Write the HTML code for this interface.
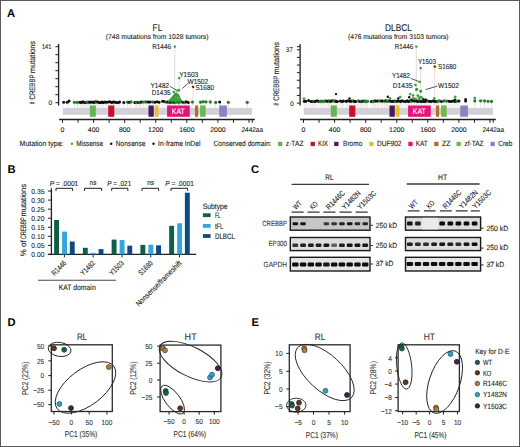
<!DOCTYPE html>
<html><head><meta charset="utf-8"><style>
html,body{margin:0;padding:0;background:#fff;}
svg{display:block;}
text{font-family:"Liberation Sans", sans-serif;text-rendering:geometricPrecision;}
</style></head><body>
<svg xmlns="http://www.w3.org/2000/svg" width="520" height="447" viewBox="0 0 520 447" font-family='"Liberation Sans", sans-serif' fill="#231f20">
<defs><filter id="bl" x="-50%" y="-50%" width="200%" height="200%"><feGaussianBlur stdDeviation="0.45"/></filter></defs>
<rect x="0.5" y="0.5" width="519" height="446" fill="#fff" stroke="#5a5a5a" stroke-width="1"/>
<text x="7.0" y="16.8" font-size="11.2" font-weight="bold" fill="#000">A</text>
<text x="7.6" y="173.3" font-size="11.2" font-weight="bold" fill="#000">B</text>
<text x="251.0" y="173.4" font-size="11.2" font-weight="bold" fill="#000">C</text>
<text x="7.4" y="326.1" font-size="11.2" font-weight="bold" fill="#000">D</text>
<text x="251.4" y="326.2" font-size="11.2" font-weight="bold" fill="#000">E</text>
<rect x="62.70" y="107.90" width="189.34" height="6.90" fill="#d3d1d8"/>
<line x1="63.70" y1="103.00" x2="63.70" y2="107.80" stroke="#dcc8d2" stroke-width="0.45"/>
<line x1="67.20" y1="103.00" x2="67.20" y2="107.80" stroke="#dcc8d2" stroke-width="0.45"/>
<line x1="69.10" y1="103.00" x2="69.10" y2="107.80" stroke="#dcc8d2" stroke-width="0.45"/>
<line x1="74.40" y1="103.00" x2="74.40" y2="107.80" stroke="#dcc8d2" stroke-width="0.45"/>
<line x1="77.30" y1="103.00" x2="77.30" y2="107.80" stroke="#dcc8d2" stroke-width="0.45"/>
<line x1="80.00" y1="103.00" x2="80.00" y2="107.80" stroke="#dcc8d2" stroke-width="0.45"/>
<line x1="81.35" y1="103.00" x2="81.35" y2="107.80" stroke="#dcc8d2" stroke-width="0.45"/>
<line x1="82.62" y1="103.00" x2="82.62" y2="107.80" stroke="#dcc8d2" stroke-width="0.45"/>
<line x1="83.99" y1="103.00" x2="83.99" y2="107.80" stroke="#dcc8d2" stroke-width="0.45"/>
<line x1="85.30" y1="103.00" x2="85.30" y2="107.80" stroke="#dcc8d2" stroke-width="0.45"/>
<line x1="86.83" y1="103.00" x2="86.83" y2="107.80" stroke="#dcc8d2" stroke-width="0.45"/>
<line x1="87.97" y1="103.00" x2="87.97" y2="107.80" stroke="#dcc8d2" stroke-width="0.45"/>
<line x1="89.51" y1="103.00" x2="89.51" y2="107.80" stroke="#dcc8d2" stroke-width="0.45"/>
<line x1="90.46" y1="103.00" x2="90.46" y2="107.80" stroke="#dcc8d2" stroke-width="0.45"/>
<line x1="92.12" y1="103.00" x2="92.12" y2="107.80" stroke="#dcc8d2" stroke-width="0.45"/>
<line x1="93.51" y1="103.00" x2="93.51" y2="107.80" stroke="#dcc8d2" stroke-width="0.45"/>
<line x1="94.43" y1="103.00" x2="94.43" y2="107.80" stroke="#dcc8d2" stroke-width="0.45"/>
<line x1="95.39" y1="103.00" x2="95.39" y2="107.80" stroke="#dcc8d2" stroke-width="0.45"/>
<line x1="96.49" y1="103.00" x2="96.49" y2="107.80" stroke="#dcc8d2" stroke-width="0.45"/>
<line x1="97.76" y1="103.00" x2="97.76" y2="107.80" stroke="#dcc8d2" stroke-width="0.45"/>
<line x1="99.33" y1="103.00" x2="99.33" y2="107.80" stroke="#dcc8d2" stroke-width="0.45"/>
<line x1="100.73" y1="103.00" x2="100.73" y2="107.80" stroke="#dcc8d2" stroke-width="0.45"/>
<line x1="102.16" y1="103.00" x2="102.16" y2="107.80" stroke="#dcc8d2" stroke-width="0.45"/>
<line x1="103.29" y1="103.00" x2="103.29" y2="107.80" stroke="#dcc8d2" stroke-width="0.45"/>
<line x1="104.97" y1="103.00" x2="104.97" y2="107.80" stroke="#dcc8d2" stroke-width="0.45"/>
<line x1="106.44" y1="103.00" x2="106.44" y2="107.80" stroke="#dcc8d2" stroke-width="0.45"/>
<line x1="108.30" y1="103.00" x2="108.30" y2="107.80" stroke="#dcc8d2" stroke-width="0.45"/>
<line x1="110.00" y1="103.00" x2="110.00" y2="107.80" stroke="#dcc8d2" stroke-width="0.45"/>
<line x1="111.70" y1="103.00" x2="111.70" y2="107.80" stroke="#dcc8d2" stroke-width="0.45"/>
<line x1="112.96" y1="103.00" x2="112.96" y2="107.80" stroke="#dcc8d2" stroke-width="0.45"/>
<line x1="114.56" y1="103.00" x2="114.56" y2="107.80" stroke="#dcc8d2" stroke-width="0.45"/>
<line x1="116.14" y1="103.00" x2="116.14" y2="107.80" stroke="#dcc8d2" stroke-width="0.45"/>
<line x1="118.20" y1="103.00" x2="118.20" y2="107.80" stroke="#dcc8d2" stroke-width="0.45"/>
<line x1="119.60" y1="103.00" x2="119.60" y2="107.80" stroke="#dcc8d2" stroke-width="0.45"/>
<line x1="123.80" y1="103.00" x2="123.80" y2="107.80" stroke="#dcc8d2" stroke-width="0.45"/>
<line x1="127.50" y1="103.00" x2="127.50" y2="107.80" stroke="#dcc8d2" stroke-width="0.45"/>
<line x1="129.30" y1="103.00" x2="129.30" y2="107.80" stroke="#dcc8d2" stroke-width="0.45"/>
<line x1="131.00" y1="103.00" x2="131.00" y2="107.80" stroke="#dcc8d2" stroke-width="0.45"/>
<line x1="134.80" y1="103.00" x2="134.80" y2="107.80" stroke="#dcc8d2" stroke-width="0.45"/>
<line x1="136.40" y1="103.00" x2="136.40" y2="107.80" stroke="#dcc8d2" stroke-width="0.45"/>
<line x1="138.23" y1="103.00" x2="138.23" y2="107.80" stroke="#dcc8d2" stroke-width="0.45"/>
<line x1="139.69" y1="103.00" x2="139.69" y2="107.80" stroke="#dcc8d2" stroke-width="0.45"/>
<line x1="141.22" y1="103.00" x2="141.22" y2="107.80" stroke="#dcc8d2" stroke-width="0.45"/>
<line x1="143.19" y1="103.00" x2="143.19" y2="107.80" stroke="#dcc8d2" stroke-width="0.45"/>
<line x1="145.60" y1="103.00" x2="145.60" y2="107.80" stroke="#dcc8d2" stroke-width="0.45"/>
<line x1="147.90" y1="103.00" x2="147.90" y2="107.80" stroke="#dcc8d2" stroke-width="0.45"/>
<line x1="149.90" y1="103.00" x2="149.90" y2="107.80" stroke="#dcc8d2" stroke-width="0.45"/>
<line x1="152.40" y1="103.00" x2="152.40" y2="107.80" stroke="#dcc8d2" stroke-width="0.45"/>
<line x1="154.90" y1="103.00" x2="154.90" y2="107.80" stroke="#dcc8d2" stroke-width="0.45"/>
<line x1="157.00" y1="103.00" x2="157.00" y2="107.80" stroke="#dcc8d2" stroke-width="0.45"/>
<line x1="159.10" y1="103.00" x2="159.10" y2="107.80" stroke="#dcc8d2" stroke-width="0.45"/>
<line x1="162.60" y1="103.00" x2="162.60" y2="107.80" stroke="#dcc8d2" stroke-width="0.45"/>
<line x1="164.10" y1="103.00" x2="164.10" y2="107.80" stroke="#dcc8d2" stroke-width="0.45"/>
<line x1="165.90" y1="103.00" x2="165.90" y2="107.80" stroke="#dcc8d2" stroke-width="0.45"/>
<line x1="167.60" y1="103.00" x2="167.60" y2="107.80" stroke="#dcc8d2" stroke-width="0.45"/>
<line x1="169.20" y1="103.00" x2="169.20" y2="107.80" stroke="#dcc8d2" stroke-width="0.45"/>
<line x1="170.70" y1="103.00" x2="170.70" y2="107.80" stroke="#dcc8d2" stroke-width="0.45"/>
<line x1="172.30" y1="103.00" x2="172.30" y2="107.80" stroke="#dcc8d2" stroke-width="0.45"/>
<line x1="173.90" y1="103.00" x2="173.90" y2="107.80" stroke="#dcc8d2" stroke-width="0.45"/>
<line x1="175.50" y1="103.00" x2="175.50" y2="107.80" stroke="#dcc8d2" stroke-width="0.45"/>
<line x1="177.20" y1="103.00" x2="177.20" y2="107.80" stroke="#dcc8d2" stroke-width="0.45"/>
<line x1="178.80" y1="103.00" x2="178.80" y2="107.80" stroke="#dcc8d2" stroke-width="0.45"/>
<line x1="180.80" y1="103.00" x2="180.80" y2="107.80" stroke="#dcc8d2" stroke-width="0.45"/>
<line x1="183.00" y1="103.00" x2="183.00" y2="107.80" stroke="#dcc8d2" stroke-width="0.45"/>
<line x1="184.70" y1="103.00" x2="184.70" y2="107.80" stroke="#dcc8d2" stroke-width="0.45"/>
<line x1="186.40" y1="103.00" x2="186.40" y2="107.80" stroke="#dcc8d2" stroke-width="0.45"/>
<line x1="188.30" y1="103.00" x2="188.30" y2="107.80" stroke="#dcc8d2" stroke-width="0.45"/>
<line x1="192.40" y1="103.00" x2="192.40" y2="107.80" stroke="#dcc8d2" stroke-width="0.45"/>
<line x1="200.50" y1="103.00" x2="200.50" y2="107.80" stroke="#dcc8d2" stroke-width="0.45"/>
<line x1="203.20" y1="103.00" x2="203.20" y2="107.80" stroke="#dcc8d2" stroke-width="0.45"/>
<line x1="205.90" y1="103.00" x2="205.90" y2="107.80" stroke="#dcc8d2" stroke-width="0.45"/>
<line x1="210.30" y1="103.00" x2="210.30" y2="107.80" stroke="#dcc8d2" stroke-width="0.45"/>
<line x1="215.70" y1="103.00" x2="215.70" y2="107.80" stroke="#dcc8d2" stroke-width="0.45"/>
<line x1="219.70" y1="103.00" x2="219.70" y2="107.80" stroke="#dcc8d2" stroke-width="0.45"/>
<line x1="228.30" y1="103.00" x2="228.30" y2="107.80" stroke="#dcc8d2" stroke-width="0.45"/>
<line x1="247.20" y1="103.00" x2="247.20" y2="107.80" stroke="#dcc8d2" stroke-width="0.45"/>
<rect x="89.85" y="105.50" width="5.98" height="11.30" fill="#66b552"/>
<rect x="108.19" y="105.50" width="6.14" height="11.30" fill="#c8102e"/>
<rect x="148.51" y="105.50" width="5.28" height="11.30" fill="#4b1b5b"/>
<rect x="154.81" y="105.50" width="3.73" height="11.30" fill="#e9c12a"/>
<rect x="167.08" y="105.50" width="22.69" height="11.30" fill="#e4147c"/>
<rect x="194.98" y="105.50" width="3.11" height="11.30" fill="#b86b24"/>
<rect x="200.11" y="105.50" width="5.52" height="11.30" fill="#6ab94e"/>
<rect x="219.22" y="105.50" width="7.69" height="11.30" fill="#8d82c2"/>
<text x="171.83" y="114.11" font-size="7.8" textLength="12.90" lengthAdjust="spacingAndGlyphs" fill="#fff" stroke="#fff" stroke-width="0.12">KAT</text>
<line x1="174.80" y1="46.60" x2="174.80" y2="105.50" stroke="#cfcfcf" stroke-width="0.7"/>
<line x1="179.20" y1="78.10" x2="179.20" y2="105.50" stroke="#cfcfcf" stroke-width="0.7"/>
<line x1="193.10" y1="86.90" x2="193.10" y2="105.50" stroke="#efcdb0" stroke-width="0.7"/>
<circle cx="63.70" cy="102.29" r="1.5" fill="#0d0d0d"/>
<circle cx="67.20" cy="102.37" r="1.5" fill="#0d0d0d"/>
<circle cx="69.10" cy="100.90" r="1.5" fill="#0d0d0d"/>
<circle cx="74.40" cy="102.41" r="1.45" fill="#24822a" stroke="#145c18" stroke-width="0.3"/>
<circle cx="77.30" cy="102.51" r="1.45" fill="#24822a" stroke="#145c18" stroke-width="0.3"/>
<circle cx="80.00" cy="102.37" r="1.5" fill="#0d0d0d"/>
<circle cx="81.35" cy="102.50" r="1.5" fill="#0d0d0d"/>
<circle cx="82.62" cy="101.87" r="1.5" fill="#0d0d0d"/>
<circle cx="83.99" cy="102.18" r="1.5" fill="#0d0d0d"/>
<circle cx="85.30" cy="102.51" r="1.5" fill="#0d0d0d"/>
<circle cx="86.83" cy="102.30" r="1.45" fill="#24822a" stroke="#145c18" stroke-width="0.3"/>
<circle cx="87.97" cy="102.48" r="1.45" fill="#24822a" stroke="#145c18" stroke-width="0.3"/>
<circle cx="89.51" cy="101.93" r="1.5" fill="#0d0d0d"/>
<circle cx="90.46" cy="102.18" r="1.5" fill="#0d0d0d"/>
<circle cx="92.12" cy="102.02" r="1.5" fill="#0d0d0d"/>
<circle cx="93.51" cy="102.23" r="1.5" fill="#0d0d0d"/>
<circle cx="94.43" cy="102.25" r="1.5" fill="#0d0d0d"/>
<circle cx="95.39" cy="101.86" r="1.5" fill="#0d0d0d"/>
<circle cx="96.49" cy="102.00" r="1.45" fill="#24822a" stroke="#145c18" stroke-width="0.3"/>
<circle cx="97.76" cy="102.05" r="1.5" fill="#0d0d0d"/>
<circle cx="99.33" cy="102.49" r="1.5" fill="#0d0d0d"/>
<circle cx="100.73" cy="102.39" r="1.5" fill="#0d0d0d"/>
<circle cx="102.16" cy="101.96" r="1.5" fill="#0d0d0d"/>
<circle cx="103.29" cy="102.41" r="1.5" fill="#0d0d0d"/>
<circle cx="104.97" cy="101.95" r="1.5" fill="#0d0d0d"/>
<circle cx="106.44" cy="102.28" r="1.5" fill="#0d0d0d"/>
<circle cx="108.30" cy="101.94" r="1.5" fill="#0d0d0d"/>
<circle cx="110.00" cy="101.85" r="1.5" fill="#0d0d0d"/>
<circle cx="111.70" cy="102.46" r="1.5" fill="#0d0d0d"/>
<circle cx="112.96" cy="102.00" r="1.5" fill="#0d0d0d"/>
<circle cx="114.56" cy="102.00" r="1.5" fill="#0d0d0d"/>
<circle cx="116.14" cy="102.54" r="1.5" fill="#0d0d0d"/>
<circle cx="118.20" cy="102.46" r="1.5" fill="#0d0d0d"/>
<circle cx="119.60" cy="102.05" r="1.5" fill="#0d0d0d"/>
<circle cx="123.80" cy="102.52" r="1.5" fill="#0d0d0d"/>
<circle cx="127.50" cy="102.23" r="1.45" fill="#24822a" stroke="#145c18" stroke-width="0.3"/>
<circle cx="129.30" cy="102.32" r="1.5" fill="#0d0d0d"/>
<circle cx="131.00" cy="101.99" r="1.45" fill="#24822a" stroke="#145c18" stroke-width="0.3"/>
<circle cx="134.80" cy="102.51" r="1.5" fill="#0d0d0d"/>
<circle cx="136.40" cy="102.33" r="1.45" fill="#24822a" stroke="#145c18" stroke-width="0.3"/>
<circle cx="138.23" cy="102.53" r="1.5" fill="#0d0d0d"/>
<circle cx="139.69" cy="102.48" r="1.45" fill="#24822a" stroke="#145c18" stroke-width="0.3"/>
<circle cx="141.22" cy="102.06" r="1.5" fill="#0d0d0d"/>
<circle cx="143.19" cy="102.10" r="1.45" fill="#24822a" stroke="#145c18" stroke-width="0.3"/>
<circle cx="145.60" cy="101.97" r="1.45" fill="#24822a" stroke="#145c18" stroke-width="0.3"/>
<circle cx="147.90" cy="101.95" r="1.5" fill="#0d0d0d"/>
<circle cx="149.90" cy="101.90" r="1.5" fill="#0d0d0d"/>
<circle cx="152.40" cy="102.06" r="1.45" fill="#24822a" stroke="#145c18" stroke-width="0.3"/>
<circle cx="154.90" cy="102.27" r="1.5" fill="#0d0d0d"/>
<circle cx="157.00" cy="101.85" r="1.5" fill="#0d0d0d"/>
<circle cx="159.10" cy="102.32" r="1.5" fill="#0d0d0d"/>
<circle cx="162.60" cy="101.20" r="1.5" fill="#0d0d0d"/>
<circle cx="164.10" cy="101.40" r="1.5" fill="#0d0d0d"/>
<circle cx="165.90" cy="102.09" r="1.45" fill="#24822a" stroke="#145c18" stroke-width="0.3"/>
<circle cx="167.60" cy="102.07" r="1.5" fill="#0d0d0d"/>
<circle cx="169.20" cy="102.42" r="1.45" fill="#24822a" stroke="#145c18" stroke-width="0.3"/>
<circle cx="170.70" cy="102.19" r="1.5" fill="#0d0d0d"/>
<circle cx="172.30" cy="102.07" r="1.45" fill="#24822a" stroke="#145c18" stroke-width="0.3"/>
<circle cx="173.90" cy="102.19" r="1.5" fill="#0d0d0d"/>
<circle cx="175.50" cy="102.34" r="1.45" fill="#24822a" stroke="#145c18" stroke-width="0.3"/>
<circle cx="177.20" cy="101.89" r="1.45" fill="#24822a" stroke="#145c18" stroke-width="0.3"/>
<circle cx="178.80" cy="102.53" r="1.45" fill="#24822a" stroke="#145c18" stroke-width="0.3"/>
<circle cx="180.80" cy="101.87" r="1.45" fill="#24822a" stroke="#145c18" stroke-width="0.3"/>
<circle cx="183.00" cy="102.37" r="1.5" fill="#0d0d0d"/>
<circle cx="184.70" cy="102.44" r="1.45" fill="#24822a" stroke="#145c18" stroke-width="0.3"/>
<circle cx="186.40" cy="101.86" r="1.5" fill="#0d0d0d"/>
<circle cx="188.30" cy="102.40" r="1.5" fill="#0d0d0d"/>
<circle cx="192.40" cy="102.11" r="1.45" fill="#24822a" stroke="#145c18" stroke-width="0.3"/>
<circle cx="200.50" cy="102.25" r="1.45" fill="#24822a" stroke="#145c18" stroke-width="0.3"/>
<circle cx="203.20" cy="101.86" r="1.45" fill="#24822a" stroke="#145c18" stroke-width="0.3"/>
<circle cx="205.90" cy="101.88" r="1.45" fill="#24822a" stroke="#145c18" stroke-width="0.3"/>
<circle cx="210.30" cy="101.98" r="1.45" fill="#24822a" stroke="#145c18" stroke-width="0.3"/>
<circle cx="215.70" cy="102.52" r="1.45" fill="#24822a" stroke="#145c18" stroke-width="0.3"/>
<circle cx="219.70" cy="101.99" r="1.5" fill="#0d0d0d"/>
<circle cx="228.30" cy="102.38" r="1.45" fill="#24822a" stroke="#145c18" stroke-width="0.3"/>
<circle cx="247.20" cy="102.50" r="1.45" fill="#24822a" stroke="#145c18" stroke-width="0.3"/>
<circle cx="170.00" cy="100.50" r="1.2" fill="#38a838" stroke="#1f7a22" stroke-width="0.25"/>
<circle cx="171.50" cy="99.00" r="1.2" fill="#38a838" stroke="#1f7a22" stroke-width="0.25"/>
<circle cx="172.80" cy="97.50" r="1.2" fill="#38a838" stroke="#1f7a22" stroke-width="0.25"/>
<circle cx="174.00" cy="96.00" r="1.2" fill="#38a838" stroke="#1f7a22" stroke-width="0.25"/>
<circle cx="175.20" cy="94.80" r="1.2" fill="#38a838" stroke="#1f7a22" stroke-width="0.25"/>
<circle cx="176.50" cy="95.80" r="1.2" fill="#38a838" stroke="#1f7a22" stroke-width="0.25"/>
<circle cx="177.80" cy="95.20" r="1.2" fill="#38a838" stroke="#1f7a22" stroke-width="0.25"/>
<circle cx="178.60" cy="96.80" r="1.2" fill="#38a838" stroke="#1f7a22" stroke-width="0.25"/>
<circle cx="179.50" cy="98.60" r="1.2" fill="#38a838" stroke="#1f7a22" stroke-width="0.25"/>
<circle cx="180.50" cy="100.30" r="1.2" fill="#38a838" stroke="#1f7a22" stroke-width="0.25"/>
<circle cx="174.30" cy="98.80" r="1.2" fill="#38a838" stroke="#1f7a22" stroke-width="0.25"/>
<circle cx="176.00" cy="98.00" r="1.2" fill="#38a838" stroke="#1f7a22" stroke-width="0.25"/>
<circle cx="177.40" cy="99.50" r="1.2" fill="#38a838" stroke="#1f7a22" stroke-width="0.25"/>
<circle cx="175.00" cy="100.80" r="1.2" fill="#38a838" stroke="#1f7a22" stroke-width="0.25"/>
<circle cx="172.50" cy="100.80" r="1.2" fill="#38a838" stroke="#1f7a22" stroke-width="0.25"/>
<circle cx="178.50" cy="100.80" r="1.2" fill="#38a838" stroke="#1f7a22" stroke-width="0.25"/>
<circle cx="176.20" cy="93.60" r="1.2" fill="#38a838" stroke="#1f7a22" stroke-width="0.25"/>
<line x1="58.60" y1="43.90" x2="58.60" y2="105.60" stroke="#231f20" stroke-width="1.3"/>
<line x1="55.40" y1="46.70" x2="58.60" y2="46.70" stroke="#231f20" stroke-width="1.0"/>
<line x1="55.40" y1="54.70" x2="58.60" y2="54.70" stroke="#231f20" stroke-width="1.0"/>
<line x1="55.40" y1="62.70" x2="58.60" y2="62.70" stroke="#231f20" stroke-width="1.0"/>
<line x1="55.40" y1="70.70" x2="58.60" y2="70.70" stroke="#231f20" stroke-width="1.0"/>
<line x1="55.40" y1="78.70" x2="58.60" y2="78.70" stroke="#231f20" stroke-width="1.0"/>
<line x1="55.40" y1="86.70" x2="58.60" y2="86.70" stroke="#231f20" stroke-width="1.0"/>
<line x1="55.40" y1="94.70" x2="58.60" y2="94.70" stroke="#231f20" stroke-width="1.0"/>
<line x1="55.40" y1="102.70" x2="58.60" y2="102.70" stroke="#231f20" stroke-width="1.0"/>
<text x="51.20" y="48.85" font-size="6.8" text-anchor="end" textLength="9.20" lengthAdjust="spacingAndGlyphs" fill="#231f20" stroke="#231f20" stroke-width="0.12">141</text>
<text x="52.20" y="105.18" font-size="6.6" text-anchor="end" fill="#231f20" stroke="#231f20" stroke-width="0.12">0</text>
<line x1="59.10" y1="119.50" x2="254.84" y2="119.50" stroke="#231f20" stroke-width="1.3"/>
<line x1="62.50" y1="119.50" x2="62.50" y2="122.80" stroke="#231f20" stroke-width="1.0"/>
<line x1="78.04" y1="119.50" x2="78.04" y2="122.80" stroke="#231f20" stroke-width="1.0"/>
<line x1="93.58" y1="119.50" x2="93.58" y2="122.80" stroke="#231f20" stroke-width="1.0"/>
<line x1="109.12" y1="119.50" x2="109.12" y2="122.80" stroke="#231f20" stroke-width="1.0"/>
<line x1="124.66" y1="119.50" x2="124.66" y2="122.80" stroke="#231f20" stroke-width="1.0"/>
<line x1="140.20" y1="119.50" x2="140.20" y2="122.80" stroke="#231f20" stroke-width="1.0"/>
<line x1="155.74" y1="119.50" x2="155.74" y2="122.80" stroke="#231f20" stroke-width="1.0"/>
<line x1="171.28" y1="119.50" x2="171.28" y2="122.80" stroke="#231f20" stroke-width="1.0"/>
<line x1="186.82" y1="119.50" x2="186.82" y2="122.80" stroke="#231f20" stroke-width="1.0"/>
<line x1="202.36" y1="119.50" x2="202.36" y2="122.80" stroke="#231f20" stroke-width="1.0"/>
<line x1="217.90" y1="119.50" x2="217.90" y2="122.80" stroke="#231f20" stroke-width="1.0"/>
<line x1="233.44" y1="119.50" x2="233.44" y2="122.80" stroke="#231f20" stroke-width="1.0"/>
<line x1="248.98" y1="119.50" x2="248.98" y2="122.80" stroke="#231f20" stroke-width="1.0"/>
<line x1="252.24" y1="119.50" x2="252.24" y2="122.80" stroke="#231f20" stroke-width="1.0"/>
<text x="62.50" y="132.08" font-size="6.9" text-anchor="middle" fill="#231f20" stroke="#231f20" stroke-width="0.12">0</text>
<text x="93.58" y="132.08" font-size="6.9" text-anchor="middle" fill="#231f20" stroke="#231f20" stroke-width="0.12">400</text>
<text x="124.66" y="132.08" font-size="6.9" text-anchor="middle" fill="#231f20" stroke="#231f20" stroke-width="0.12">800</text>
<text x="155.74" y="132.08" font-size="6.9" text-anchor="middle" fill="#231f20" stroke="#231f20" stroke-width="0.12">1200</text>
<text x="186.82" y="132.08" font-size="6.9" text-anchor="middle" fill="#231f20" stroke="#231f20" stroke-width="0.12">1600</text>
<text x="217.90" y="132.08" font-size="6.9" text-anchor="middle" fill="#231f20" stroke="#231f20" stroke-width="0.12">2000</text>
<text x="241.44" y="132.08" font-size="6.9" textLength="21.60" lengthAdjust="spacingAndGlyphs" fill="#231f20" stroke="#231f20" stroke-width="0.12">2442aa</text>
<text x="0" y="0" font-size="8.0" textLength="2.40" lengthAdjust="spacingAndGlyphs" fill="#231f20" stroke="#231f20" stroke-width="0.12" transform="translate(35.30 104.20) rotate(-90)">#</text>
<text x="0" y="0" font-size="8.0" textLength="25.00" lengthAdjust="spacingAndGlyphs" fill="#231f20" stroke="#231f20" stroke-width="0.12" transform="translate(35.30 99.50) rotate(-90)">CREBBP</text>
<text x="0" y="0" font-size="8.0" textLength="32.30" lengthAdjust="spacingAndGlyphs" fill="#231f20" stroke="#231f20" stroke-width="0.12" transform="translate(35.30 73.20) rotate(-90)">mutations</text>
<circle cx="174.80" cy="46.60" r="1.15" fill="#38a838" stroke="#1f7a22" stroke-width="0.25"/>
<circle cx="179.20" cy="78.10" r="1.15" fill="#38a838" stroke="#1f7a22" stroke-width="0.25"/>
<circle cx="193.10" cy="86.90" r="1.15" fill="#4a1e08" stroke="#4a1e08" stroke-width="0.25"/>
<circle cx="177.40" cy="90.60" r="1.15" fill="#38a838" stroke="#1f7a22" stroke-width="0.25"/>
<circle cx="179.00" cy="90.20" r="1.15" fill="#38a838" stroke="#1f7a22" stroke-width="0.25"/>
<circle cx="173.80" cy="92.00" r="1.15" fill="#38a838" stroke="#1f7a22" stroke-width="0.25"/>
<text x="152.20" y="49.19" font-size="7.2" textLength="18.80" lengthAdjust="spacingAndGlyphs" fill="#231f20" stroke="#231f20" stroke-width="0.12">R1446</text>
<text x="179.20" y="77.09" font-size="7.2" textLength="19.10" lengthAdjust="spacingAndGlyphs" fill="#231f20" stroke="#231f20" stroke-width="0.12">Y1503</text>
<text x="195.60" y="89.79" font-size="7.2" textLength="18.40" lengthAdjust="spacingAndGlyphs" fill="#231f20" stroke="#231f20" stroke-width="0.12">S1680</text>
<text x="150.60" y="87.99" font-size="7.2" textLength="18.40" lengthAdjust="spacingAndGlyphs" fill="#231f20" stroke="#231f20" stroke-width="0.12">Y1482</text>
<line x1="169.80" y1="86.30" x2="176.40" y2="90.00" stroke="#231f20" stroke-width="0.75"/>
<text x="151.70" y="94.79" font-size="7.2" textLength="18.80" lengthAdjust="spacingAndGlyphs" fill="#231f20" stroke="#231f20" stroke-width="0.12">D1435</text>
<text x="187.50" y="83.59" font-size="7.2" textLength="20.60" lengthAdjust="spacingAndGlyphs" fill="#231f20" stroke="#231f20" stroke-width="0.12">W1502</text>
<line x1="187.90" y1="83.50" x2="182.30" y2="88.60" stroke="#231f20" stroke-width="0.75"/>
<rect x="303.70" y="107.90" width="189.34" height="6.90" fill="#d3d1d8"/>
<line x1="304.30" y1="102.00" x2="304.30" y2="107.80" stroke="#dcc8d2" stroke-width="0.45"/>
<line x1="305.80" y1="102.00" x2="305.80" y2="107.80" stroke="#dcc8d2" stroke-width="0.45"/>
<line x1="308.60" y1="102.00" x2="308.60" y2="107.80" stroke="#dcc8d2" stroke-width="0.45"/>
<line x1="311.00" y1="102.00" x2="311.00" y2="107.80" stroke="#dcc8d2" stroke-width="0.45"/>
<line x1="312.64" y1="102.00" x2="312.64" y2="107.80" stroke="#dcc8d2" stroke-width="0.45"/>
<line x1="313.82" y1="102.00" x2="313.82" y2="107.80" stroke="#dcc8d2" stroke-width="0.45"/>
<line x1="315.21" y1="102.00" x2="315.21" y2="107.80" stroke="#dcc8d2" stroke-width="0.45"/>
<line x1="316.99" y1="102.00" x2="316.99" y2="107.80" stroke="#dcc8d2" stroke-width="0.45"/>
<line x1="318.58" y1="102.00" x2="318.58" y2="107.80" stroke="#dcc8d2" stroke-width="0.45"/>
<line x1="320.22" y1="102.00" x2="320.22" y2="107.80" stroke="#dcc8d2" stroke-width="0.45"/>
<line x1="321.67" y1="102.00" x2="321.67" y2="107.80" stroke="#dcc8d2" stroke-width="0.45"/>
<line x1="323.53" y1="102.00" x2="323.53" y2="107.80" stroke="#dcc8d2" stroke-width="0.45"/>
<line x1="325.32" y1="102.00" x2="325.32" y2="107.80" stroke="#dcc8d2" stroke-width="0.45"/>
<line x1="326.99" y1="102.00" x2="326.99" y2="107.80" stroke="#dcc8d2" stroke-width="0.45"/>
<line x1="328.40" y1="102.00" x2="328.40" y2="107.80" stroke="#dcc8d2" stroke-width="0.45"/>
<line x1="329.47" y1="102.00" x2="329.47" y2="107.80" stroke="#dcc8d2" stroke-width="0.45"/>
<line x1="330.80" y1="102.00" x2="330.80" y2="107.80" stroke="#dcc8d2" stroke-width="0.45"/>
<line x1="331.86" y1="102.00" x2="331.86" y2="107.80" stroke="#dcc8d2" stroke-width="0.45"/>
<line x1="333.63" y1="102.00" x2="333.63" y2="107.80" stroke="#dcc8d2" stroke-width="0.45"/>
<line x1="334.97" y1="102.00" x2="334.97" y2="107.80" stroke="#dcc8d2" stroke-width="0.45"/>
<line x1="336.21" y1="102.00" x2="336.21" y2="107.80" stroke="#dcc8d2" stroke-width="0.45"/>
<line x1="337.33" y1="102.00" x2="337.33" y2="107.80" stroke="#dcc8d2" stroke-width="0.45"/>
<line x1="340.40" y1="102.00" x2="340.40" y2="107.80" stroke="#dcc8d2" stroke-width="0.45"/>
<line x1="342.07" y1="102.00" x2="342.07" y2="107.80" stroke="#dcc8d2" stroke-width="0.45"/>
<line x1="343.40" y1="102.00" x2="343.40" y2="107.80" stroke="#dcc8d2" stroke-width="0.45"/>
<line x1="346.00" y1="102.00" x2="346.00" y2="107.80" stroke="#dcc8d2" stroke-width="0.45"/>
<line x1="347.01" y1="102.00" x2="347.01" y2="107.80" stroke="#dcc8d2" stroke-width="0.45"/>
<line x1="348.80" y1="102.00" x2="348.80" y2="107.80" stroke="#dcc8d2" stroke-width="0.45"/>
<line x1="350.34" y1="102.00" x2="350.34" y2="107.80" stroke="#dcc8d2" stroke-width="0.45"/>
<line x1="351.62" y1="102.00" x2="351.62" y2="107.80" stroke="#dcc8d2" stroke-width="0.45"/>
<line x1="353.17" y1="102.00" x2="353.17" y2="107.80" stroke="#dcc8d2" stroke-width="0.45"/>
<line x1="354.34" y1="102.00" x2="354.34" y2="107.80" stroke="#dcc8d2" stroke-width="0.45"/>
<line x1="355.75" y1="102.00" x2="355.75" y2="107.80" stroke="#dcc8d2" stroke-width="0.45"/>
<line x1="358.50" y1="102.00" x2="358.50" y2="107.80" stroke="#dcc8d2" stroke-width="0.45"/>
<line x1="360.17" y1="102.00" x2="360.17" y2="107.80" stroke="#dcc8d2" stroke-width="0.45"/>
<line x1="361.59" y1="102.00" x2="361.59" y2="107.80" stroke="#dcc8d2" stroke-width="0.45"/>
<line x1="362.93" y1="102.00" x2="362.93" y2="107.80" stroke="#dcc8d2" stroke-width="0.45"/>
<line x1="364.55" y1="102.00" x2="364.55" y2="107.80" stroke="#dcc8d2" stroke-width="0.45"/>
<line x1="366.00" y1="102.00" x2="366.00" y2="107.80" stroke="#dcc8d2" stroke-width="0.45"/>
<line x1="367.56" y1="102.00" x2="367.56" y2="107.80" stroke="#dcc8d2" stroke-width="0.45"/>
<line x1="371.40" y1="102.00" x2="371.40" y2="107.80" stroke="#dcc8d2" stroke-width="0.45"/>
<line x1="373.02" y1="102.00" x2="373.02" y2="107.80" stroke="#dcc8d2" stroke-width="0.45"/>
<line x1="374.49" y1="102.00" x2="374.49" y2="107.80" stroke="#dcc8d2" stroke-width="0.45"/>
<line x1="375.79" y1="102.00" x2="375.79" y2="107.80" stroke="#dcc8d2" stroke-width="0.45"/>
<line x1="377.70" y1="102.00" x2="377.70" y2="107.80" stroke="#dcc8d2" stroke-width="0.45"/>
<line x1="379.61" y1="102.00" x2="379.61" y2="107.80" stroke="#dcc8d2" stroke-width="0.45"/>
<line x1="381.50" y1="102.00" x2="381.50" y2="107.80" stroke="#dcc8d2" stroke-width="0.45"/>
<line x1="382.72" y1="102.00" x2="382.72" y2="107.80" stroke="#dcc8d2" stroke-width="0.45"/>
<line x1="384.59" y1="102.00" x2="384.59" y2="107.80" stroke="#dcc8d2" stroke-width="0.45"/>
<line x1="385.88" y1="102.00" x2="385.88" y2="107.80" stroke="#dcc8d2" stroke-width="0.45"/>
<line x1="387.24" y1="102.00" x2="387.24" y2="107.80" stroke="#dcc8d2" stroke-width="0.45"/>
<line x1="388.29" y1="102.00" x2="388.29" y2="107.80" stroke="#dcc8d2" stroke-width="0.45"/>
<line x1="389.90" y1="102.00" x2="389.90" y2="107.80" stroke="#dcc8d2" stroke-width="0.45"/>
<line x1="391.85" y1="102.00" x2="391.85" y2="107.80" stroke="#dcc8d2" stroke-width="0.45"/>
<line x1="392.92" y1="102.00" x2="392.92" y2="107.80" stroke="#dcc8d2" stroke-width="0.45"/>
<line x1="394.68" y1="102.00" x2="394.68" y2="107.80" stroke="#dcc8d2" stroke-width="0.45"/>
<line x1="395.50" y1="102.00" x2="395.50" y2="107.80" stroke="#dcc8d2" stroke-width="0.45"/>
<line x1="397.02" y1="102.00" x2="397.02" y2="107.80" stroke="#dcc8d2" stroke-width="0.45"/>
<line x1="398.64" y1="102.00" x2="398.64" y2="107.80" stroke="#dcc8d2" stroke-width="0.45"/>
<line x1="400.54" y1="102.00" x2="400.54" y2="107.80" stroke="#dcc8d2" stroke-width="0.45"/>
<line x1="401.74" y1="102.00" x2="401.74" y2="107.80" stroke="#dcc8d2" stroke-width="0.45"/>
<line x1="403.57" y1="102.00" x2="403.57" y2="107.80" stroke="#dcc8d2" stroke-width="0.45"/>
<line x1="405.47" y1="102.00" x2="405.47" y2="107.80" stroke="#dcc8d2" stroke-width="0.45"/>
<line x1="407.15" y1="102.00" x2="407.15" y2="107.80" stroke="#dcc8d2" stroke-width="0.45"/>
<line x1="408.39" y1="102.00" x2="408.39" y2="107.80" stroke="#dcc8d2" stroke-width="0.45"/>
<line x1="409.67" y1="102.00" x2="409.67" y2="107.80" stroke="#dcc8d2" stroke-width="0.45"/>
<line x1="411.35" y1="102.00" x2="411.35" y2="107.80" stroke="#dcc8d2" stroke-width="0.45"/>
<line x1="413.19" y1="102.00" x2="413.19" y2="107.80" stroke="#dcc8d2" stroke-width="0.45"/>
<line x1="414.46" y1="102.00" x2="414.46" y2="107.80" stroke="#dcc8d2" stroke-width="0.45"/>
<line x1="416.39" y1="102.00" x2="416.39" y2="107.80" stroke="#dcc8d2" stroke-width="0.45"/>
<line x1="418.00" y1="102.00" x2="418.00" y2="107.80" stroke="#dcc8d2" stroke-width="0.45"/>
<line x1="419.92" y1="102.00" x2="419.92" y2="107.80" stroke="#dcc8d2" stroke-width="0.45"/>
<line x1="421.35" y1="102.00" x2="421.35" y2="107.80" stroke="#dcc8d2" stroke-width="0.45"/>
<line x1="423.21" y1="102.00" x2="423.21" y2="107.80" stroke="#dcc8d2" stroke-width="0.45"/>
<line x1="424.78" y1="102.00" x2="424.78" y2="107.80" stroke="#dcc8d2" stroke-width="0.45"/>
<line x1="426.16" y1="102.00" x2="426.16" y2="107.80" stroke="#dcc8d2" stroke-width="0.45"/>
<line x1="427.72" y1="102.00" x2="427.72" y2="107.80" stroke="#dcc8d2" stroke-width="0.45"/>
<line x1="429.41" y1="102.00" x2="429.41" y2="107.80" stroke="#dcc8d2" stroke-width="0.45"/>
<line x1="431.17" y1="102.00" x2="431.17" y2="107.80" stroke="#dcc8d2" stroke-width="0.45"/>
<line x1="433.04" y1="102.00" x2="433.04" y2="107.80" stroke="#dcc8d2" stroke-width="0.45"/>
<line x1="434.80" y1="102.00" x2="434.80" y2="107.80" stroke="#dcc8d2" stroke-width="0.45"/>
<line x1="435.94" y1="102.00" x2="435.94" y2="107.80" stroke="#dcc8d2" stroke-width="0.45"/>
<line x1="437.50" y1="102.00" x2="437.50" y2="107.80" stroke="#dcc8d2" stroke-width="0.45"/>
<line x1="439.20" y1="102.00" x2="439.20" y2="107.80" stroke="#dcc8d2" stroke-width="0.45"/>
<line x1="441.50" y1="102.00" x2="441.50" y2="107.80" stroke="#dcc8d2" stroke-width="0.45"/>
<line x1="444.00" y1="102.00" x2="444.00" y2="107.80" stroke="#dcc8d2" stroke-width="0.45"/>
<line x1="446.50" y1="102.00" x2="446.50" y2="107.80" stroke="#dcc8d2" stroke-width="0.45"/>
<line x1="449.00" y1="102.00" x2="449.00" y2="107.80" stroke="#dcc8d2" stroke-width="0.45"/>
<line x1="451.00" y1="102.00" x2="451.00" y2="107.80" stroke="#dcc8d2" stroke-width="0.45"/>
<line x1="453.00" y1="102.00" x2="453.00" y2="107.80" stroke="#dcc8d2" stroke-width="0.45"/>
<line x1="455.00" y1="102.00" x2="455.00" y2="107.80" stroke="#dcc8d2" stroke-width="0.45"/>
<line x1="457.00" y1="102.00" x2="457.00" y2="107.80" stroke="#dcc8d2" stroke-width="0.45"/>
<line x1="459.00" y1="102.00" x2="459.00" y2="107.80" stroke="#dcc8d2" stroke-width="0.45"/>
<line x1="465.60" y1="102.00" x2="465.60" y2="107.80" stroke="#dcc8d2" stroke-width="0.45"/>
<line x1="474.80" y1="102.00" x2="474.80" y2="107.80" stroke="#dcc8d2" stroke-width="0.45"/>
<line x1="480.60" y1="102.00" x2="480.60" y2="107.80" stroke="#dcc8d2" stroke-width="0.45"/>
<line x1="484.50" y1="102.00" x2="484.50" y2="107.80" stroke="#dcc8d2" stroke-width="0.45"/>
<line x1="488.00" y1="102.00" x2="488.00" y2="107.80" stroke="#dcc8d2" stroke-width="0.45"/>
<line x1="491.50" y1="102.00" x2="491.50" y2="107.80" stroke="#dcc8d2" stroke-width="0.45"/>
<rect x="330.85" y="105.50" width="5.98" height="11.30" fill="#66b552"/>
<rect x="349.19" y="105.50" width="6.14" height="11.30" fill="#c8102e"/>
<rect x="389.51" y="105.50" width="5.28" height="11.30" fill="#4b1b5b"/>
<rect x="395.81" y="105.50" width="3.73" height="11.30" fill="#e9c12a"/>
<rect x="408.08" y="105.50" width="22.69" height="11.30" fill="#e4147c"/>
<rect x="435.98" y="105.50" width="3.11" height="11.30" fill="#b86b24"/>
<rect x="441.11" y="105.50" width="5.52" height="11.30" fill="#6ab94e"/>
<rect x="460.22" y="105.50" width="7.69" height="11.30" fill="#8d82c2"/>
<text x="412.83" y="114.11" font-size="7.8" textLength="12.90" lengthAdjust="spacingAndGlyphs" fill="#fff" stroke="#fff" stroke-width="0.12">KAT</text>
<line x1="416.30" y1="46.60" x2="416.30" y2="105.50" stroke="#cfcfcf" stroke-width="0.7"/>
<line x1="420.70" y1="68.10" x2="420.70" y2="105.50" stroke="#cfcfcf" stroke-width="0.7"/>
<line x1="434.80" y1="66.60" x2="434.80" y2="105.50" stroke="#d8cccc" stroke-width="0.7"/>
<circle cx="304.30" cy="101.29" r="1.5" fill="#0d0d0d"/>
<circle cx="305.80" cy="101.37" r="1.5" fill="#0d0d0d"/>
<circle cx="308.60" cy="100.60" r="1.5" fill="#0d0d0d"/>
<circle cx="311.00" cy="101.41" r="1.5" fill="#0d0d0d"/>
<circle cx="312.64" cy="101.51" r="1.5" fill="#0d0d0d"/>
<circle cx="313.82" cy="101.37" r="1.45" fill="#24822a" stroke="#145c18" stroke-width="0.3"/>
<circle cx="315.21" cy="101.50" r="1.5" fill="#0d0d0d"/>
<circle cx="316.99" cy="100.87" r="1.5" fill="#0d0d0d"/>
<circle cx="318.58" cy="101.18" r="1.5" fill="#0d0d0d"/>
<circle cx="320.22" cy="101.51" r="1.45" fill="#24822a" stroke="#145c18" stroke-width="0.3"/>
<circle cx="321.67" cy="101.30" r="1.45" fill="#24822a" stroke="#145c18" stroke-width="0.3"/>
<circle cx="323.53" cy="101.48" r="1.45" fill="#24822a" stroke="#145c18" stroke-width="0.3"/>
<circle cx="325.32" cy="100.93" r="1.45" fill="#24822a" stroke="#145c18" stroke-width="0.3"/>
<circle cx="326.99" cy="101.18" r="1.5" fill="#0d0d0d"/>
<circle cx="328.40" cy="101.02" r="1.5" fill="#0d0d0d"/>
<circle cx="329.47" cy="101.23" r="1.45" fill="#24822a" stroke="#145c18" stroke-width="0.3"/>
<circle cx="330.80" cy="101.25" r="1.5" fill="#0d0d0d"/>
<circle cx="331.86" cy="100.86" r="1.5" fill="#0d0d0d"/>
<circle cx="333.63" cy="101.00" r="1.45" fill="#24822a" stroke="#145c18" stroke-width="0.3"/>
<circle cx="334.97" cy="101.05" r="1.45" fill="#24822a" stroke="#145c18" stroke-width="0.3"/>
<circle cx="336.21" cy="101.49" r="1.5" fill="#0d0d0d"/>
<circle cx="337.33" cy="101.39" r="1.5" fill="#0d0d0d"/>
<circle cx="340.40" cy="100.96" r="1.5" fill="#0d0d0d"/>
<circle cx="342.07" cy="101.41" r="1.5" fill="#0d0d0d"/>
<circle cx="343.40" cy="100.95" r="1.5" fill="#0d0d0d"/>
<circle cx="346.00" cy="101.28" r="1.5" fill="#0d0d0d"/>
<circle cx="347.01" cy="100.94" r="1.5" fill="#0d0d0d"/>
<circle cx="348.80" cy="100.85" r="1.5" fill="#0d0d0d"/>
<circle cx="350.34" cy="101.46" r="1.5" fill="#0d0d0d"/>
<circle cx="351.62" cy="101.00" r="1.5" fill="#0d0d0d"/>
<circle cx="353.17" cy="101.00" r="1.45" fill="#24822a" stroke="#145c18" stroke-width="0.3"/>
<circle cx="354.34" cy="101.54" r="1.5" fill="#0d0d0d"/>
<circle cx="355.75" cy="101.46" r="1.5" fill="#0d0d0d"/>
<circle cx="358.50" cy="101.05" r="1.45" fill="#24822a" stroke="#145c18" stroke-width="0.3"/>
<circle cx="360.17" cy="101.52" r="1.5" fill="#0d0d0d"/>
<circle cx="361.59" cy="101.23" r="1.45" fill="#24822a" stroke="#145c18" stroke-width="0.3"/>
<circle cx="362.93" cy="101.32" r="1.5" fill="#0d0d0d"/>
<circle cx="364.55" cy="100.99" r="1.45" fill="#24822a" stroke="#145c18" stroke-width="0.3"/>
<circle cx="366.00" cy="101.51" r="1.45" fill="#24822a" stroke="#145c18" stroke-width="0.3"/>
<circle cx="367.56" cy="101.33" r="1.45" fill="#24822a" stroke="#145c18" stroke-width="0.3"/>
<circle cx="371.40" cy="101.53" r="1.5" fill="#0d0d0d"/>
<circle cx="373.02" cy="101.48" r="1.45" fill="#24822a" stroke="#145c18" stroke-width="0.3"/>
<circle cx="374.49" cy="101.06" r="1.45" fill="#24822a" stroke="#145c18" stroke-width="0.3"/>
<circle cx="375.79" cy="101.10" r="1.5" fill="#0d0d0d"/>
<circle cx="377.70" cy="100.97" r="1.5" fill="#0d0d0d"/>
<circle cx="379.61" cy="100.95" r="1.45" fill="#24822a" stroke="#145c18" stroke-width="0.3"/>
<circle cx="381.50" cy="100.90" r="1.5" fill="#0d0d0d"/>
<circle cx="382.72" cy="101.06" r="1.5" fill="#0d0d0d"/>
<circle cx="384.59" cy="101.27" r="1.45" fill="#24822a" stroke="#145c18" stroke-width="0.3"/>
<circle cx="385.88" cy="100.85" r="1.5" fill="#0d0d0d"/>
<circle cx="387.24" cy="101.32" r="1.45" fill="#24822a" stroke="#145c18" stroke-width="0.3"/>
<circle cx="388.29" cy="101.09" r="1.45" fill="#24822a" stroke="#145c18" stroke-width="0.3"/>
<circle cx="389.90" cy="101.07" r="1.5" fill="#0d0d0d"/>
<circle cx="391.85" cy="101.42" r="1.5" fill="#0d0d0d"/>
<circle cx="392.92" cy="101.19" r="1.5" fill="#0d0d0d"/>
<circle cx="394.68" cy="101.07" r="1.5" fill="#0d0d0d"/>
<circle cx="395.50" cy="101.19" r="1.45" fill="#24822a" stroke="#145c18" stroke-width="0.3"/>
<circle cx="397.02" cy="101.34" r="1.5" fill="#0d0d0d"/>
<circle cx="398.64" cy="100.89" r="1.5" fill="#0d0d0d"/>
<circle cx="400.54" cy="101.53" r="1.5" fill="#0d0d0d"/>
<circle cx="401.74" cy="100.87" r="1.5" fill="#0d0d0d"/>
<circle cx="403.57" cy="101.37" r="1.5" fill="#0d0d0d"/>
<circle cx="405.47" cy="101.44" r="1.5" fill="#0d0d0d"/>
<circle cx="407.15" cy="100.86" r="1.5" fill="#0d0d0d"/>
<circle cx="408.39" cy="101.40" r="1.5" fill="#0d0d0d"/>
<circle cx="409.67" cy="101.11" r="1.5" fill="#0d0d0d"/>
<circle cx="411.35" cy="101.25" r="1.45" fill="#24822a" stroke="#145c18" stroke-width="0.3"/>
<circle cx="413.19" cy="100.86" r="1.5" fill="#0d0d0d"/>
<circle cx="414.46" cy="100.88" r="1.5" fill="#0d0d0d"/>
<circle cx="416.39" cy="100.98" r="1.5" fill="#0d0d0d"/>
<circle cx="418.00" cy="101.52" r="1.5" fill="#0d0d0d"/>
<circle cx="419.92" cy="100.99" r="1.5" fill="#0d0d0d"/>
<circle cx="421.35" cy="101.38" r="1.5" fill="#0d0d0d"/>
<circle cx="423.21" cy="101.50" r="1.5" fill="#0d0d0d"/>
<circle cx="424.78" cy="101.51" r="1.5" fill="#0d0d0d"/>
<circle cx="426.16" cy="101.09" r="1.5" fill="#0d0d0d"/>
<circle cx="427.72" cy="101.10" r="1.45" fill="#24822a" stroke="#145c18" stroke-width="0.3"/>
<circle cx="429.41" cy="101.22" r="1.5" fill="#0d0d0d"/>
<circle cx="431.17" cy="101.39" r="1.5" fill="#0d0d0d"/>
<circle cx="433.04" cy="100.93" r="1.5" fill="#0d0d0d"/>
<circle cx="434.80" cy="101.37" r="1.5" fill="#0d0d0d"/>
<circle cx="435.94" cy="101.41" r="1.5" fill="#0d0d0d"/>
<circle cx="437.50" cy="101.45" r="1.45" fill="#24822a" stroke="#145c18" stroke-width="0.3"/>
<circle cx="439.20" cy="100.88" r="1.45" fill="#24822a" stroke="#145c18" stroke-width="0.3"/>
<circle cx="441.50" cy="101.51" r="1.5" fill="#0d0d0d"/>
<circle cx="444.00" cy="100.91" r="1.45" fill="#24822a" stroke="#145c18" stroke-width="0.3"/>
<circle cx="446.50" cy="101.09" r="1.45" fill="#24822a" stroke="#145c18" stroke-width="0.3"/>
<circle cx="449.00" cy="101.28" r="1.5" fill="#0d0d0d"/>
<circle cx="451.00" cy="101.49" r="1.5" fill="#0d0d0d"/>
<circle cx="453.00" cy="101.09" r="1.5" fill="#0d0d0d"/>
<circle cx="455.00" cy="101.50" r="1.5" fill="#0d0d0d"/>
<circle cx="457.00" cy="101.23" r="1.45" fill="#24822a" stroke="#145c18" stroke-width="0.3"/>
<circle cx="459.00" cy="101.07" r="1.5" fill="#0d0d0d"/>
<circle cx="465.60" cy="101.07" r="1.5" fill="#0d0d0d"/>
<circle cx="474.80" cy="100.97" r="1.45" fill="#24822a" stroke="#145c18" stroke-width="0.3"/>
<circle cx="480.60" cy="100.90" r="1.45" fill="#24822a" stroke="#145c18" stroke-width="0.3"/>
<circle cx="484.50" cy="100.95" r="1.45" fill="#24822a" stroke="#145c18" stroke-width="0.3"/>
<circle cx="488.00" cy="101.33" r="1.45" fill="#24822a" stroke="#145c18" stroke-width="0.3"/>
<circle cx="491.50" cy="101.55" r="1.45" fill="#24822a" stroke="#145c18" stroke-width="0.3"/>
<circle cx="336.00" cy="94.10" r="1.2" fill="#0d0d0d"/>
<circle cx="349.50" cy="98.50" r="1.2" fill="#0d0d0d"/>
<circle cx="304.00" cy="98.60" r="1.2" fill="#38a838" stroke="#1f7a22" stroke-width="0.25"/>
<circle cx="387.80" cy="96.80" r="1.2" fill="#0d0d0d"/>
<circle cx="390.00" cy="98.50" r="1.2" fill="#38a838" stroke="#1f7a22" stroke-width="0.25"/>
<circle cx="398.20" cy="98.50" r="1.2" fill="#0d0d0d"/>
<circle cx="400.10" cy="97.00" r="1.2" fill="#38a838" stroke="#1f7a22" stroke-width="0.25"/>
<circle cx="409.20" cy="97.30" r="1.2" fill="#0d0d0d"/>
<circle cx="410.20" cy="94.10" r="1.2" fill="#38a838" stroke="#1f7a22" stroke-width="0.25"/>
<circle cx="413.10" cy="95.40" r="1.2" fill="#38a838" stroke="#1f7a22" stroke-width="0.25"/>
<circle cx="413.50" cy="98.50" r="1.2" fill="#38a838" stroke="#1f7a22" stroke-width="0.25"/>
<circle cx="416.90" cy="89.30" r="1.2" fill="#38a838" stroke="#1f7a22" stroke-width="0.25"/>
<circle cx="420.60" cy="91.30" r="1.2" fill="#38a838" stroke="#1f7a22" stroke-width="0.25"/>
<circle cx="417.90" cy="95.60" r="1.2" fill="#38a838" stroke="#1f7a22" stroke-width="0.25"/>
<circle cx="419.30" cy="97.50" r="1.2" fill="#38a838" stroke="#1f7a22" stroke-width="0.25"/>
<circle cx="421.30" cy="97.30" r="1.2" fill="#38a838" stroke="#1f7a22" stroke-width="0.25"/>
<circle cx="423.00" cy="99.00" r="1.2" fill="#38a838" stroke="#1f7a22" stroke-width="0.25"/>
<circle cx="423.70" cy="99.40" r="1.2" fill="#0d0d0d"/>
<circle cx="434.20" cy="98.50" r="1.2" fill="#38a838" stroke="#1f7a22" stroke-width="0.25"/>
<circle cx="455.20" cy="96.90" r="1.2" fill="#38a838" stroke="#1f7a22" stroke-width="0.25"/>
<circle cx="455.00" cy="99.60" r="1.2" fill="#0d0d0d"/>
<circle cx="465.60" cy="99.20" r="1.2" fill="#0d0d0d"/>
<circle cx="474.80" cy="98.00" r="1.2" fill="#38a838" stroke="#1f7a22" stroke-width="0.25"/>
<circle cx="415.50" cy="99.00" r="1.2" fill="#38a838" stroke="#1f7a22" stroke-width="0.25"/>
<circle cx="418.50" cy="99.60" r="1.2" fill="#38a838" stroke="#1f7a22" stroke-width="0.25"/>
<circle cx="411.50" cy="99.60" r="1.2" fill="#0d0d0d"/>
<circle cx="426.00" cy="99.80" r="1.2" fill="#0d0d0d"/>
<line x1="300.10" y1="43.90" x2="300.10" y2="105.60" stroke="#231f20" stroke-width="1.3"/>
<line x1="296.90" y1="46.70" x2="300.10" y2="46.70" stroke="#231f20" stroke-width="1.0"/>
<line x1="296.90" y1="49.80" x2="300.10" y2="49.80" stroke="#231f20" stroke-width="1.0"/>
<line x1="296.90" y1="57.42" x2="300.10" y2="57.42" stroke="#231f20" stroke-width="1.0"/>
<line x1="296.90" y1="65.04" x2="300.10" y2="65.04" stroke="#231f20" stroke-width="1.0"/>
<line x1="296.90" y1="72.66" x2="300.10" y2="72.66" stroke="#231f20" stroke-width="1.0"/>
<line x1="296.90" y1="80.28" x2="300.10" y2="80.28" stroke="#231f20" stroke-width="1.0"/>
<line x1="296.90" y1="87.90" x2="300.10" y2="87.90" stroke="#231f20" stroke-width="1.0"/>
<line x1="296.90" y1="95.52" x2="300.10" y2="95.52" stroke="#231f20" stroke-width="1.0"/>
<line x1="296.90" y1="103.14" x2="300.10" y2="103.14" stroke="#231f20" stroke-width="1.0"/>
<text x="292.70" y="51.95" font-size="6.8" text-anchor="end" textLength="6.60" lengthAdjust="spacingAndGlyphs" fill="#231f20" stroke="#231f20" stroke-width="0.12">37</text>
<text x="293.70" y="105.62" font-size="6.6" text-anchor="end" fill="#231f20" stroke="#231f20" stroke-width="0.12">0</text>
<line x1="300.10" y1="119.50" x2="495.84" y2="119.50" stroke="#231f20" stroke-width="1.3"/>
<line x1="303.50" y1="119.50" x2="303.50" y2="122.80" stroke="#231f20" stroke-width="1.0"/>
<line x1="319.04" y1="119.50" x2="319.04" y2="122.80" stroke="#231f20" stroke-width="1.0"/>
<line x1="334.58" y1="119.50" x2="334.58" y2="122.80" stroke="#231f20" stroke-width="1.0"/>
<line x1="350.12" y1="119.50" x2="350.12" y2="122.80" stroke="#231f20" stroke-width="1.0"/>
<line x1="365.66" y1="119.50" x2="365.66" y2="122.80" stroke="#231f20" stroke-width="1.0"/>
<line x1="381.20" y1="119.50" x2="381.20" y2="122.80" stroke="#231f20" stroke-width="1.0"/>
<line x1="396.74" y1="119.50" x2="396.74" y2="122.80" stroke="#231f20" stroke-width="1.0"/>
<line x1="412.28" y1="119.50" x2="412.28" y2="122.80" stroke="#231f20" stroke-width="1.0"/>
<line x1="427.82" y1="119.50" x2="427.82" y2="122.80" stroke="#231f20" stroke-width="1.0"/>
<line x1="443.36" y1="119.50" x2="443.36" y2="122.80" stroke="#231f20" stroke-width="1.0"/>
<line x1="458.90" y1="119.50" x2="458.90" y2="122.80" stroke="#231f20" stroke-width="1.0"/>
<line x1="474.44" y1="119.50" x2="474.44" y2="122.80" stroke="#231f20" stroke-width="1.0"/>
<line x1="489.98" y1="119.50" x2="489.98" y2="122.80" stroke="#231f20" stroke-width="1.0"/>
<line x1="493.24" y1="119.50" x2="493.24" y2="122.80" stroke="#231f20" stroke-width="1.0"/>
<text x="303.50" y="132.08" font-size="6.9" text-anchor="middle" fill="#231f20" stroke="#231f20" stroke-width="0.12">0</text>
<text x="334.58" y="132.08" font-size="6.9" text-anchor="middle" fill="#231f20" stroke="#231f20" stroke-width="0.12">400</text>
<text x="365.66" y="132.08" font-size="6.9" text-anchor="middle" fill="#231f20" stroke="#231f20" stroke-width="0.12">800</text>
<text x="396.74" y="132.08" font-size="6.9" text-anchor="middle" fill="#231f20" stroke="#231f20" stroke-width="0.12">1200</text>
<text x="427.82" y="132.08" font-size="6.9" text-anchor="middle" fill="#231f20" stroke="#231f20" stroke-width="0.12">1600</text>
<text x="458.90" y="132.08" font-size="6.9" text-anchor="middle" fill="#231f20" stroke="#231f20" stroke-width="0.12">2000</text>
<text x="482.44" y="132.08" font-size="6.9" textLength="21.60" lengthAdjust="spacingAndGlyphs" fill="#231f20" stroke="#231f20" stroke-width="0.12">2442aa</text>
<text x="0" y="0" font-size="8.0" textLength="2.40" lengthAdjust="spacingAndGlyphs" fill="#231f20" stroke="#231f20" stroke-width="0.12" transform="translate(278.80 105.40) rotate(-90)">#</text>
<text x="0" y="0" font-size="8.0" textLength="25.00" lengthAdjust="spacingAndGlyphs" fill="#231f20" stroke="#231f20" stroke-width="0.12" transform="translate(278.80 100.70) rotate(-90)">CREBBP</text>
<text x="0" y="0" font-size="8.0" textLength="32.30" lengthAdjust="spacingAndGlyphs" fill="#231f20" stroke="#231f20" stroke-width="0.12" transform="translate(278.80 74.40) rotate(-90)">mutations</text>
<circle cx="416.30" cy="46.60" r="1.15" fill="#38a838" stroke="#1f7a22" stroke-width="0.25"/>
<circle cx="420.70" cy="68.10" r="1.15" fill="#38a838" stroke="#1f7a22" stroke-width="0.25"/>
<circle cx="434.80" cy="66.60" r="1.15" fill="#4a1e08" stroke="#4a1e08" stroke-width="0.25"/>
<circle cx="419.60" cy="81.90" r="1.15" fill="#38a838" stroke="#1f7a22" stroke-width="0.25"/>
<circle cx="415.50" cy="85.00" r="1.15" fill="#38a838" stroke="#1f7a22" stroke-width="0.25"/>
<circle cx="416.30" cy="89.70" r="1.15" fill="#38a838" stroke="#1f7a22" stroke-width="0.25"/>
<circle cx="421.00" cy="91.20" r="1.15" fill="#38a838" stroke="#1f7a22" stroke-width="0.25"/>
<text x="394.70" y="49.19" font-size="7.2" textLength="18.50" lengthAdjust="spacingAndGlyphs" fill="#231f20" stroke="#231f20" stroke-width="0.12">R1446</text>
<text x="417.90" y="64.09" font-size="7.2" textLength="18.00" lengthAdjust="spacingAndGlyphs" fill="#231f20" stroke="#231f20" stroke-width="0.12">Y1503</text>
<text x="438.10" y="69.29" font-size="7.2" textLength="18.10" lengthAdjust="spacingAndGlyphs" fill="#231f20" stroke="#231f20" stroke-width="0.12">S1680</text>
<text x="392.00" y="77.89" font-size="7.2" textLength="18.00" lengthAdjust="spacingAndGlyphs" fill="#231f20" stroke="#231f20" stroke-width="0.12">Y1482</text>
<line x1="410.80" y1="78.40" x2="418.60" y2="81.40" stroke="#231f20" stroke-width="0.75"/>
<text x="392.80" y="87.59" font-size="7.2" textLength="19.60" lengthAdjust="spacingAndGlyphs" fill="#231f20" stroke="#231f20" stroke-width="0.12">D1435</text>
<text x="438.10" y="88.19" font-size="7.2" textLength="20.80" lengthAdjust="spacingAndGlyphs" fill="#231f20" stroke="#231f20" stroke-width="0.12">W1502</text>
<line x1="437.40" y1="86.00" x2="425.60" y2="89.60" stroke="#231f20" stroke-width="0.75"/>
<text x="152.60" y="30.78" font-size="9.8" textLength="9.70" lengthAdjust="spacingAndGlyphs" fill="#231f20" stroke="#231f20" stroke-width="0.12">FL</text>
<text x="105.80" y="39.42" font-size="7.0" textLength="102.70" lengthAdjust="spacingAndGlyphs" fill="#231f20" stroke="#231f20" stroke-width="0.12">(748 mutations from 1028 tumors)</text>
<text x="385.00" y="30.78" font-size="9.8" textLength="27.00" lengthAdjust="spacingAndGlyphs" fill="#231f20" stroke="#231f20" stroke-width="0.12">DLBCL</text>
<text x="348.00" y="39.42" font-size="7.0" textLength="100.50" lengthAdjust="spacingAndGlyphs" fill="#231f20" stroke="#231f20" stroke-width="0.12">(476 mutations from 3103 tumors)</text>
<text x="19.60" y="146.04" font-size="7.6" textLength="43.90" lengthAdjust="spacingAndGlyphs" fill="#231f20" stroke="#231f20" stroke-width="0.12">Mutation type:</text>
<circle cx="71.90" cy="143.80" r="1.2" fill="#38a838"/>
<text x="76.20" y="146.04" font-size="7.6" textLength="26.90" lengthAdjust="spacingAndGlyphs" fill="#231f20" stroke="#231f20" stroke-width="0.12">Missense</text>
<circle cx="111.20" cy="143.80" r="1.2" fill="#0d0d0d"/>
<text x="115.80" y="146.04" font-size="7.6" textLength="29.60" lengthAdjust="spacingAndGlyphs" fill="#231f20" stroke="#231f20" stroke-width="0.12">Nonsense</text>
<circle cx="153.50" cy="143.80" r="1.2" fill="#0d0d0d"/>
<text x="158.10" y="146.04" font-size="7.6" textLength="42.30" lengthAdjust="spacingAndGlyphs" fill="#231f20" stroke="#231f20" stroke-width="0.12">In-frame InDel</text>
<text x="213.40" y="146.04" font-size="7.6" textLength="58.10" lengthAdjust="spacingAndGlyphs" fill="#231f20" stroke="#231f20" stroke-width="0.12">Conserved domain:</text>
<rect x="278.00" y="141.80" width="4.30" height="4.30" fill="#66b552"/>
<text x="285.80" y="146.04" font-size="7.6" textLength="17.70" lengthAdjust="spacingAndGlyphs" fill="#231f20" stroke="#231f20" stroke-width="0.12">z-TAZ</text>
<rect x="310.60" y="141.80" width="4.30" height="4.30" fill="#c8102e"/>
<text x="318.00" y="146.04" font-size="7.6" textLength="10.00" lengthAdjust="spacingAndGlyphs" fill="#231f20" stroke="#231f20" stroke-width="0.12">KIX</text>
<rect x="334.20" y="141.80" width="4.30" height="4.30" fill="#4b1b5b"/>
<text x="343.10" y="146.04" font-size="7.6" textLength="19.20" lengthAdjust="spacingAndGlyphs" fill="#231f20" stroke="#231f20" stroke-width="0.12">Bromo</text>
<rect x="369.20" y="141.80" width="4.30" height="4.30" fill="#e9c12a"/>
<text x="376.90" y="146.04" font-size="7.6" textLength="24.60" lengthAdjust="spacingAndGlyphs" fill="#231f20" stroke="#231f20" stroke-width="0.12">DUF902</text>
<rect x="408.30" y="141.80" width="4.30" height="4.30" fill="#e4147c"/>
<text x="415.80" y="146.04" font-size="7.6" textLength="12.00" lengthAdjust="spacingAndGlyphs" fill="#231f20" stroke="#231f20" stroke-width="0.12">KAT</text>
<rect x="434.20" y="141.80" width="4.30" height="4.30" fill="#b86b24"/>
<text x="441.90" y="146.04" font-size="7.6" textLength="8.50" lengthAdjust="spacingAndGlyphs" fill="#231f20" stroke="#231f20" stroke-width="0.12">ZZ</text>
<rect x="456.50" y="141.80" width="4.30" height="4.30" fill="#6ab94e"/>
<text x="464.40" y="146.04" font-size="7.6" textLength="19.20" lengthAdjust="spacingAndGlyphs" fill="#231f20" stroke="#231f20" stroke-width="0.12">zf-TAZ</text>
<rect x="490.50" y="141.80" width="4.30" height="4.30" fill="#8d82c2"/>
<text x="498.20" y="146.04" font-size="7.6" textLength="14.10" lengthAdjust="spacingAndGlyphs" fill="#231f20" stroke="#231f20" stroke-width="0.12">Creb</text>
<line x1="51.40" y1="188.20" x2="51.40" y2="254.40" stroke="#231f20" stroke-width="1.3"/>
<line x1="47.90" y1="254.40" x2="51.40" y2="254.40" stroke="#231f20" stroke-width="1.0"/>
<text x="44.40" y="256.92" font-size="7.0" text-anchor="end" textLength="13.10" lengthAdjust="spacingAndGlyphs" fill="#2e2e2e" stroke="#2e2e2e" stroke-width="0.12">0.00</text>
<line x1="47.90" y1="245.35" x2="51.40" y2="245.35" stroke="#231f20" stroke-width="1.0"/>
<text x="44.40" y="247.87" font-size="7.0" text-anchor="end" textLength="13.10" lengthAdjust="spacingAndGlyphs" fill="#2e2e2e" stroke="#2e2e2e" stroke-width="0.12">0.05</text>
<line x1="47.90" y1="236.30" x2="51.40" y2="236.30" stroke="#231f20" stroke-width="1.0"/>
<text x="44.40" y="238.82" font-size="7.0" text-anchor="end" textLength="13.10" lengthAdjust="spacingAndGlyphs" fill="#2e2e2e" stroke="#2e2e2e" stroke-width="0.12">0.10</text>
<line x1="47.90" y1="227.25" x2="51.40" y2="227.25" stroke="#231f20" stroke-width="1.0"/>
<text x="44.40" y="229.77" font-size="7.0" text-anchor="end" textLength="13.10" lengthAdjust="spacingAndGlyphs" fill="#2e2e2e" stroke="#2e2e2e" stroke-width="0.12">0.15</text>
<line x1="47.90" y1="218.20" x2="51.40" y2="218.20" stroke="#231f20" stroke-width="1.0"/>
<text x="44.40" y="220.72" font-size="7.0" text-anchor="end" textLength="13.10" lengthAdjust="spacingAndGlyphs" fill="#2e2e2e" stroke="#2e2e2e" stroke-width="0.12">0.20</text>
<line x1="47.90" y1="209.15" x2="51.40" y2="209.15" stroke="#231f20" stroke-width="1.0"/>
<text x="44.40" y="211.67" font-size="7.0" text-anchor="end" textLength="13.10" lengthAdjust="spacingAndGlyphs" fill="#2e2e2e" stroke="#2e2e2e" stroke-width="0.12">0.25</text>
<line x1="47.90" y1="200.10" x2="51.40" y2="200.10" stroke="#231f20" stroke-width="1.0"/>
<text x="44.40" y="202.62" font-size="7.0" text-anchor="end" textLength="13.10" lengthAdjust="spacingAndGlyphs" fill="#2e2e2e" stroke="#2e2e2e" stroke-width="0.12">0.30</text>
<line x1="47.90" y1="191.05" x2="51.40" y2="191.05" stroke="#231f20" stroke-width="1.0"/>
<text x="44.40" y="193.57" font-size="7.0" text-anchor="end" textLength="13.10" lengthAdjust="spacingAndGlyphs" fill="#2e2e2e" stroke="#2e2e2e" stroke-width="0.12">0.35</text>
<text x="0" y="0" font-size="8.0" textLength="16.10" lengthAdjust="spacingAndGlyphs" fill="#231f20" stroke="#231f20" stroke-width="0.12" transform="translate(25.60 256.30) rotate(-90)">% of</text>
<text x="0" y="0" font-size="8.0" textLength="21.50" lengthAdjust="spacingAndGlyphs" fill="#231f20" stroke="#231f20" stroke-width="0.12" font-style="italic" transform="translate(25.60 239.00) rotate(-90)">CREBBP</text>
<text x="0" y="0" font-size="8.0" textLength="32.40" lengthAdjust="spacingAndGlyphs" fill="#231f20" stroke="#231f20" stroke-width="0.12" transform="translate(25.60 216.50) rotate(-90)">mutations</text>
<line x1="47.90" y1="254.40" x2="196.20" y2="254.40" stroke="#231f20" stroke-width="1.3"/>
<rect x="54.10" y="220.00" width="4.90" height="34.40" fill="#0f5f47"/>
<rect x="62.10" y="231.60" width="4.90" height="22.80" fill="#35a6dd"/>
<rect x="69.80" y="241.50" width="4.90" height="12.90" fill="#0e4a86"/>
<line x1="64.40" y1="254.40" x2="64.40" y2="257.40" stroke="#231f20" stroke-width="1.0"/>
<rect x="82.87" y="247.80" width="4.90" height="6.60" fill="#0f5f47"/>
<rect x="90.87" y="252.90" width="4.90" height="1.50" fill="#35a6dd"/>
<rect x="98.57" y="249.10" width="4.90" height="5.30" fill="#0e4a86"/>
<line x1="93.17" y1="254.40" x2="93.17" y2="257.40" stroke="#231f20" stroke-width="1.0"/>
<rect x="111.64" y="239.60" width="4.90" height="14.80" fill="#0f5f47"/>
<rect x="119.64" y="240.00" width="4.90" height="14.40" fill="#35a6dd"/>
<rect x="127.34" y="245.70" width="4.90" height="8.70" fill="#0e4a86"/>
<line x1="121.94" y1="254.40" x2="121.94" y2="257.40" stroke="#231f20" stroke-width="1.0"/>
<rect x="140.41" y="244.90" width="4.90" height="9.50" fill="#0f5f47"/>
<rect x="148.41" y="244.70" width="4.90" height="9.70" fill="#35a6dd"/>
<rect x="156.11" y="245.30" width="4.90" height="9.10" fill="#0e4a86"/>
<line x1="150.71" y1="254.40" x2="150.71" y2="257.40" stroke="#231f20" stroke-width="1.0"/>
<rect x="169.18" y="225.80" width="4.90" height="28.60" fill="#0f5f47"/>
<rect x="177.18" y="223.30" width="4.90" height="31.10" fill="#35a6dd"/>
<rect x="184.88" y="192.70" width="4.90" height="61.70" fill="#0e4a86"/>
<line x1="179.48" y1="254.40" x2="179.48" y2="257.40" stroke="#231f20" stroke-width="1.0"/>
<polyline points="56.0,190.9 56.0,188.3 72.6,188.3 72.6,190.9" fill="none" stroke="#231f20" stroke-width="1.0"/>
<polyline points="84.5,190.9 84.5,188.3 101.6,188.3 101.6,190.9" fill="none" stroke="#231f20" stroke-width="1.0"/>
<polyline points="111.7,190.9 111.7,188.3 127.8,188.3 127.8,190.9" fill="none" stroke="#231f20" stroke-width="1.0"/>
<polyline points="142.0,190.9 142.0,188.3 158.6,188.3 158.6,190.9" fill="none" stroke="#231f20" stroke-width="1.0"/>
<polyline points="171.0,190.9 171.0,188.3 187.6,188.3 187.6,190.9" fill="none" stroke="#231f20" stroke-width="1.0"/>
<text x="49.80" y="185.59" font-size="7.2" textLength="28.50" lengthAdjust="spacingAndGlyphs" fill="#231f20" stroke="#231f20" stroke-width="0.12"><tspan font-style="italic">P</tspan> = .0001</text>
<text x="89.70" y="185.19" font-size="7.2" textLength="6.60" lengthAdjust="spacingAndGlyphs" fill="#231f20" stroke="#231f20" stroke-width="0.12">ns</text>
<text x="107.30" y="185.59" font-size="7.2" textLength="23.90" lengthAdjust="spacingAndGlyphs" fill="#231f20" stroke="#231f20" stroke-width="0.12"><tspan font-style="italic">P</tspan> = .021</text>
<text x="147.20" y="185.19" font-size="7.2" textLength="6.80" lengthAdjust="spacingAndGlyphs" fill="#231f20" stroke="#231f20" stroke-width="0.12">ns</text>
<text x="165.30" y="185.59" font-size="7.2" textLength="28.60" lengthAdjust="spacingAndGlyphs" fill="#231f20" stroke="#231f20" stroke-width="0.12"><tspan font-style="italic">P</tspan> = .0001</text>
<text x="202.80" y="208.71" font-size="7.8" textLength="24.70" lengthAdjust="spacingAndGlyphs" fill="#231f20" stroke="#231f20" stroke-width="0.12">Subtype</text>
<rect x="202.90" y="213.30" width="7.70" height="3.80" fill="#0f5f47"/>
<text x="214.90" y="218.01" font-size="7.8" textLength="5.60" lengthAdjust="spacingAndGlyphs" fill="#231f20" stroke="#231f20" stroke-width="0.12">FL</text>
<rect x="202.90" y="224.00" width="7.70" height="3.80" fill="#35a6dd"/>
<text x="214.90" y="228.71" font-size="7.8" textLength="8.40" lengthAdjust="spacingAndGlyphs" fill="#231f20" stroke="#231f20" stroke-width="0.12">tFL</text>
<rect x="202.90" y="234.10" width="7.70" height="3.80" fill="#0e4a86"/>
<text x="214.90" y="238.81" font-size="7.8" textLength="20.10" lengthAdjust="spacingAndGlyphs" fill="#231f20" stroke="#231f20" stroke-width="0.12">DLBCL</text>
<text x="0" y="0" font-size="7.5" text-anchor="end" textLength="17.50" lengthAdjust="spacingAndGlyphs" fill="#231f20" stroke="#231f20" stroke-width="0.12" transform="translate(66.90 263.70) rotate(-45)">R1446</text>
<text x="0" y="0" font-size="7.5" text-anchor="end" textLength="17.50" lengthAdjust="spacingAndGlyphs" fill="#231f20" stroke="#231f20" stroke-width="0.12" transform="translate(95.70 263.70) rotate(-45)">Y1482</text>
<text x="0" y="0" font-size="7.5" text-anchor="end" textLength="17.50" lengthAdjust="spacingAndGlyphs" fill="#231f20" stroke="#231f20" stroke-width="0.12" transform="translate(124.50 263.70) rotate(-45)">Y1503</text>
<text x="0" y="0" font-size="7.5" text-anchor="end" textLength="17.00" lengthAdjust="spacingAndGlyphs" fill="#231f20" stroke="#231f20" stroke-width="0.12" transform="translate(153.30 263.70) rotate(-45)">S1680</text>
<text x="0" y="0" font-size="7.5" text-anchor="end" textLength="61.00" lengthAdjust="spacingAndGlyphs" fill="#231f20" stroke="#231f20" stroke-width="0.12" transform="translate(182.10 263.70) rotate(-45)">Nonsense/frameshift</text>
<line x1="38.00" y1="280.30" x2="116.20" y2="280.30" stroke="#4a4a4a" stroke-width="1.1"/>
<text x="58.70" y="289.51" font-size="7.8" textLength="37.00" lengthAdjust="spacingAndGlyphs" fill="#231f20" stroke="#231f20" stroke-width="0.12">KAT domain</text>
<text x="325.20" y="179.98" font-size="8.0" textLength="8.30" lengthAdjust="spacingAndGlyphs" fill="#231f20" stroke="#231f20" stroke-width="0.12">RL</text>
<line x1="291.50" y1="184.40" x2="369.00" y2="184.40" stroke="#3a3a3a" stroke-width="1.3"/>
<line x1="291.60" y1="212.10" x2="303.70" y2="212.10" stroke="#222" stroke-width="1.15"/>
<line x1="307.50" y1="212.10" x2="319.60" y2="212.10" stroke="#222" stroke-width="1.15"/>
<line x1="323.40" y1="212.10" x2="335.50" y2="212.10" stroke="#222" stroke-width="1.15"/>
<line x1="339.50" y1="212.10" x2="351.60" y2="212.10" stroke="#222" stroke-width="1.15"/>
<line x1="355.60" y1="212.10" x2="367.70" y2="212.10" stroke="#222" stroke-width="1.15"/>
<text x="0" y="0" font-size="7.5" textLength="9.00" lengthAdjust="spacingAndGlyphs" fill="#231f20" stroke="#231f20" stroke-width="0.12" transform="translate(295.90 210.00) rotate(-45)">WT</text>
<text x="0" y="0" font-size="7.5" textLength="8.00" lengthAdjust="spacingAndGlyphs" fill="#231f20" stroke="#231f20" stroke-width="0.12" transform="translate(312.70 210.00) rotate(-45)">KO</text>
<text x="0" y="0" font-size="7.5" textLength="23.20" lengthAdjust="spacingAndGlyphs" fill="#231f20" stroke="#231f20" stroke-width="0.12" transform="translate(329.10 210.00) rotate(-45)">R1446C</text>
<text x="0" y="0" font-size="7.5" textLength="23.20" lengthAdjust="spacingAndGlyphs" fill="#231f20" stroke="#231f20" stroke-width="0.12" transform="translate(344.70 210.00) rotate(-45)">Y1482N</text>
<text x="0" y="0" font-size="7.5" textLength="23.20" lengthAdjust="spacingAndGlyphs" fill="#231f20" stroke="#231f20" stroke-width="0.12" transform="translate(360.30 210.00) rotate(-45)">Y1503C</text>
<rect x="290.30" y="217.00" width="79.70" height="13.20" fill="#c6c6c6" stroke="#1a1a1a" stroke-width="1.4"/>
<rect x="292.50" y="222.30" width="5.60" height="3.00" rx="1.2" fill="#0a0a0a" opacity="0.95" filter="url(#bl)"/>
<rect x="300.27" y="222.30" width="5.60" height="3.00" rx="1.2" fill="#0a0a0a" opacity="0.95" filter="url(#bl)"/>
<rect x="323.58" y="222.30" width="5.60" height="3.00" rx="1.2" fill="#0a0a0a" opacity="0.75" filter="url(#bl)"/>
<rect x="331.35" y="222.30" width="5.60" height="3.00" rx="1.2" fill="#0a0a0a" opacity="0.80" filter="url(#bl)"/>
<rect x="339.12" y="222.30" width="5.60" height="3.00" rx="1.2" fill="#0a0a0a" opacity="0.90" filter="url(#bl)"/>
<rect x="346.89" y="222.30" width="5.60" height="3.00" rx="1.2" fill="#0a0a0a" opacity="0.95" filter="url(#bl)"/>
<rect x="354.66" y="222.30" width="5.60" height="3.00" rx="1.2" fill="#0a0a0a" opacity="0.85" filter="url(#bl)"/>
<rect x="362.43" y="222.30" width="5.60" height="3.00" rx="1.2" fill="#0a0a0a" opacity="0.85" filter="url(#bl)"/>
<rect x="290.30" y="237.50" width="79.70" height="13.10" fill="#dedede" stroke="#1a1a1a" stroke-width="1.4"/>
<rect x="292.40" y="243.60" width="5.80" height="3.40" rx="1.2" fill="#0a0a0a" opacity="0.80" filter="url(#bl)"/>
<rect x="300.17" y="243.60" width="5.80" height="3.40" rx="1.2" fill="#0a0a0a" opacity="0.90" filter="url(#bl)"/>
<rect x="307.94" y="243.60" width="5.80" height="3.40" rx="1.2" fill="#0a0a0a" opacity="0.90" filter="url(#bl)"/>
<rect x="315.71" y="243.60" width="5.80" height="3.40" rx="1.2" fill="#0a0a0a" opacity="0.90" filter="url(#bl)"/>
<rect x="323.48" y="243.60" width="5.80" height="3.40" rx="1.2" fill="#0a0a0a" opacity="0.95" filter="url(#bl)"/>
<rect x="331.25" y="243.60" width="5.80" height="3.40" rx="1.2" fill="#0a0a0a" opacity="0.60" filter="url(#bl)"/>
<rect x="339.02" y="243.60" width="5.80" height="3.40" rx="1.2" fill="#0a0a0a" opacity="0.90" filter="url(#bl)"/>
<rect x="346.79" y="243.60" width="5.80" height="3.40" rx="1.2" fill="#0a0a0a" opacity="0.95" filter="url(#bl)"/>
<rect x="354.56" y="243.60" width="5.80" height="3.40" rx="1.2" fill="#0a0a0a" opacity="0.95" filter="url(#bl)"/>
<rect x="362.33" y="243.60" width="5.80" height="3.40" rx="1.2" fill="#0a0a0a" opacity="0.95" filter="url(#bl)"/>
<rect x="290.30" y="257.30" width="79.70" height="13.70" fill="#e4e4e4" stroke="#1a1a1a" stroke-width="1.4"/>
<rect x="292.10" y="262.50" width="6.40" height="4.00" rx="1.2" fill="#0a0a0a" opacity="1.00" filter="url(#bl)"/>
<rect x="299.87" y="262.50" width="6.40" height="4.00" rx="1.2" fill="#0a0a0a" opacity="1.00" filter="url(#bl)"/>
<rect x="307.64" y="262.50" width="6.40" height="4.00" rx="1.2" fill="#0a0a0a" opacity="1.00" filter="url(#bl)"/>
<rect x="315.41" y="262.50" width="6.40" height="4.00" rx="1.2" fill="#0a0a0a" opacity="1.00" filter="url(#bl)"/>
<rect x="323.18" y="262.50" width="6.40" height="4.00" rx="1.2" fill="#0a0a0a" opacity="0.95" filter="url(#bl)"/>
<rect x="330.95" y="262.50" width="6.40" height="4.00" rx="1.2" fill="#0a0a0a" opacity="1.00" filter="url(#bl)"/>
<rect x="338.72" y="262.50" width="6.40" height="4.00" rx="1.2" fill="#0a0a0a" opacity="1.00" filter="url(#bl)"/>
<rect x="346.49" y="262.50" width="6.40" height="4.00" rx="1.2" fill="#0a0a0a" opacity="1.00" filter="url(#bl)"/>
<rect x="354.26" y="262.50" width="6.40" height="4.00" rx="1.2" fill="#0a0a0a" opacity="1.00" filter="url(#bl)"/>
<rect x="362.03" y="262.50" width="6.40" height="4.00" rx="1.2" fill="#0a0a0a" opacity="1.00" filter="url(#bl)"/>
<line x1="370.70" y1="225.30" x2="372.90" y2="225.30" stroke="#1a1a1a" stroke-width="1.0"/>
<text x="375.80" y="227.60" font-size="7.5" textLength="21.20" lengthAdjust="spacingAndGlyphs" fill="#231f20" stroke="#231f20" stroke-width="0.12">250 kD</text>
<line x1="370.70" y1="245.60" x2="372.90" y2="245.60" stroke="#1a1a1a" stroke-width="1.0"/>
<text x="375.80" y="247.90" font-size="7.5" textLength="21.20" lengthAdjust="spacingAndGlyphs" fill="#231f20" stroke="#231f20" stroke-width="0.12">250 kD</text>
<line x1="370.70" y1="264.00" x2="372.90" y2="264.00" stroke="#1a1a1a" stroke-width="1.0"/>
<text x="375.80" y="266.30" font-size="7.5" textLength="17.60" lengthAdjust="spacingAndGlyphs" fill="#231f20" stroke="#231f20" stroke-width="0.12">37 kD</text>
<text x="438.10" y="179.98" font-size="8.0" textLength="9.00" lengthAdjust="spacingAndGlyphs" fill="#231f20" stroke="#231f20" stroke-width="0.12">HT</text>
<line x1="406.70" y1="184.00" x2="479.60" y2="184.00" stroke="#3a3a3a" stroke-width="1.3"/>
<line x1="407.70" y1="210.90" x2="419.60" y2="210.90" stroke="#222" stroke-width="1.15"/>
<line x1="424.00" y1="210.90" x2="435.60" y2="210.90" stroke="#222" stroke-width="1.15"/>
<line x1="440.00" y1="210.90" x2="451.90" y2="210.90" stroke="#222" stroke-width="1.15"/>
<line x1="455.80" y1="210.90" x2="467.70" y2="210.90" stroke="#222" stroke-width="1.15"/>
<line x1="470.80" y1="210.90" x2="479.80" y2="210.90" stroke="#222" stroke-width="1.15"/>
<text x="0" y="0" font-size="7.5" textLength="9.00" lengthAdjust="spacingAndGlyphs" fill="#231f20" stroke="#231f20" stroke-width="0.12" transform="translate(412.10 209.20) rotate(-45)">WT</text>
<text x="0" y="0" font-size="7.5" textLength="8.00" lengthAdjust="spacingAndGlyphs" fill="#231f20" stroke="#231f20" stroke-width="0.12" transform="translate(429.40 209.20) rotate(-45)">KO</text>
<text x="0" y="0" font-size="7.5" textLength="23.00" lengthAdjust="spacingAndGlyphs" fill="#231f20" stroke="#231f20" stroke-width="0.12" transform="translate(445.70 209.20) rotate(-45)">R1446C</text>
<text x="0" y="0" font-size="7.5" textLength="23.00" lengthAdjust="spacingAndGlyphs" fill="#231f20" stroke="#231f20" stroke-width="0.12" transform="translate(462.10 209.20) rotate(-45)">Y1482N</text>
<text x="0" y="0" font-size="7.5" textLength="23.00" lengthAdjust="spacingAndGlyphs" fill="#231f20" stroke="#231f20" stroke-width="0.12" transform="translate(475.50 209.20) rotate(-45)">Y1503C</text>
<rect x="405.50" y="217.00" width="75.10" height="13.20" fill="#dcdcdc" stroke="#1a1a1a" stroke-width="1.4"/>
<rect x="422.36" y="217.80" width="15.80" height="11.60" fill="#ebebeb"/>
<rect x="407.00" y="221.60" width="5.60" height="3.80" rx="1.2" fill="#0a0a0a" opacity="0.95" filter="url(#bl)"/>
<rect x="415.10" y="221.60" width="5.60" height="3.80" rx="1.2" fill="#0a0a0a" opacity="0.90" filter="url(#bl)"/>
<rect x="439.40" y="221.60" width="5.60" height="3.80" rx="1.2" fill="#0a0a0a" opacity="1.00" filter="url(#bl)"/>
<rect x="447.50" y="221.60" width="5.60" height="3.80" rx="1.2" fill="#0a0a0a" opacity="1.00" filter="url(#bl)"/>
<rect x="455.60" y="221.60" width="5.60" height="3.80" rx="1.2" fill="#0a0a0a" opacity="1.00" filter="url(#bl)"/>
<rect x="463.70" y="221.60" width="5.60" height="3.80" rx="1.2" fill="#0a0a0a" opacity="1.00" filter="url(#bl)"/>
<rect x="471.80" y="221.60" width="5.60" height="3.80" rx="1.2" fill="#0a0a0a" opacity="1.00" filter="url(#bl)"/>
<rect x="405.50" y="237.50" width="75.10" height="13.10" fill="#dedede" stroke="#1a1a1a" stroke-width="1.4"/>
<rect x="406.90" y="242.60" width="5.80" height="3.40" rx="1.2" fill="#0a0a0a" opacity="0.90" filter="url(#bl)"/>
<rect x="415.00" y="242.60" width="5.80" height="3.40" rx="1.2" fill="#0a0a0a" opacity="0.85" filter="url(#bl)"/>
<rect x="423.10" y="242.60" width="5.80" height="3.40" rx="1.2" fill="#0a0a0a" opacity="0.85" filter="url(#bl)"/>
<rect x="431.20" y="242.60" width="5.80" height="3.40" rx="1.2" fill="#0a0a0a" opacity="0.90" filter="url(#bl)"/>
<rect x="439.30" y="242.60" width="5.80" height="3.40" rx="1.2" fill="#0a0a0a" opacity="0.95" filter="url(#bl)"/>
<rect x="447.40" y="242.60" width="5.80" height="3.40" rx="1.2" fill="#0a0a0a" opacity="0.90" filter="url(#bl)"/>
<rect x="455.50" y="242.60" width="5.80" height="3.40" rx="1.2" fill="#0a0a0a" opacity="0.85" filter="url(#bl)"/>
<rect x="463.60" y="242.60" width="5.80" height="3.40" rx="1.2" fill="#0a0a0a" opacity="0.95" filter="url(#bl)"/>
<rect x="471.70" y="242.60" width="5.80" height="3.40" rx="1.2" fill="#0a0a0a" opacity="1.00" filter="url(#bl)"/>
<rect x="405.50" y="257.30" width="75.10" height="13.70" fill="#e4e4e4" stroke="#1a1a1a" stroke-width="1.4"/>
<rect x="406.60" y="261.90" width="6.40" height="4.00" rx="1.2" fill="#0a0a0a" opacity="1.00" filter="url(#bl)"/>
<rect x="414.70" y="261.90" width="6.40" height="4.00" rx="1.2" fill="#0a0a0a" opacity="1.00" filter="url(#bl)"/>
<rect x="422.80" y="261.90" width="6.40" height="4.00" rx="1.2" fill="#0a0a0a" opacity="1.00" filter="url(#bl)"/>
<rect x="430.90" y="261.90" width="6.40" height="4.00" rx="1.2" fill="#0a0a0a" opacity="1.00" filter="url(#bl)"/>
<rect x="439.00" y="261.90" width="6.40" height="4.00" rx="1.2" fill="#0a0a0a" opacity="1.00" filter="url(#bl)"/>
<rect x="447.10" y="261.90" width="6.40" height="4.00" rx="1.2" fill="#0a0a0a" opacity="1.00" filter="url(#bl)"/>
<rect x="455.20" y="261.90" width="6.40" height="4.00" rx="1.2" fill="#0a0a0a" opacity="1.00" filter="url(#bl)"/>
<rect x="463.30" y="261.90" width="6.40" height="4.00" rx="1.2" fill="#0a0a0a" opacity="1.00" filter="url(#bl)"/>
<rect x="471.40" y="261.90" width="6.40" height="4.00" rx="1.2" fill="#0a0a0a" opacity="1.00" filter="url(#bl)"/>
<line x1="481.30" y1="228.20" x2="483.50" y2="228.20" stroke="#1a1a1a" stroke-width="1.0"/>
<text x="486.40" y="230.50" font-size="7.5" textLength="21.70" lengthAdjust="spacingAndGlyphs" fill="#231f20" stroke="#231f20" stroke-width="0.12">250 kD</text>
<line x1="481.30" y1="248.10" x2="483.50" y2="248.10" stroke="#1a1a1a" stroke-width="1.0"/>
<text x="486.40" y="250.40" font-size="7.5" textLength="21.70" lengthAdjust="spacingAndGlyphs" fill="#231f20" stroke="#231f20" stroke-width="0.12">250 kD</text>
<line x1="481.30" y1="264.90" x2="483.50" y2="264.90" stroke="#1a1a1a" stroke-width="1.0"/>
<text x="486.40" y="267.20" font-size="7.5" textLength="17.80" lengthAdjust="spacingAndGlyphs" fill="#231f20" stroke="#231f20" stroke-width="0.12">37 kD</text>
<text x="262.20" y="225.76" font-size="7.4" textLength="24.80" lengthAdjust="spacingAndGlyphs" fill="#3a3a3a" stroke="#3a3a3a" stroke-width="0.12">CREBBP</text>
<text x="268.40" y="246.46" font-size="7.4" textLength="18.60" lengthAdjust="spacingAndGlyphs" fill="#3a3a3a" stroke="#3a3a3a" stroke-width="0.12">EP300</text>
<text x="263.60" y="266.56" font-size="7.4" textLength="23.40" lengthAdjust="spacingAndGlyphs" fill="#3a3a3a" stroke="#3a3a3a" stroke-width="0.12">GAPDH</text>
<text x="76.90" y="340.08" font-size="9.4" textLength="10.10" lengthAdjust="spacingAndGlyphs" fill="#333" stroke="#333" stroke-width="0.12">RL</text>
<rect x="51.30" y="344.80" width="61.00" height="66.70" fill="none" stroke="#2a2a2a" stroke-width="1.3"/>
<line x1="48.30" y1="345.80" x2="51.30" y2="345.80" stroke="#231f20" stroke-width="1.0"/>
<text x="0" y="0" font-size="7.2" transform="translate(44.20 348.69) scale(0.9 1)" text-anchor="end" fill="#3a3a3a" stroke="#3a3a3a" stroke-width="0.12">50</text>
<line x1="48.30" y1="360.80" x2="51.30" y2="360.80" stroke="#231f20" stroke-width="1.0"/>
<text x="0" y="0" font-size="7.2" transform="translate(44.20 363.69) scale(0.9 1)" text-anchor="end" fill="#3a3a3a" stroke="#3a3a3a" stroke-width="0.12">25</text>
<line x1="48.30" y1="375.60" x2="51.30" y2="375.60" stroke="#231f20" stroke-width="1.0"/>
<text x="0" y="0" font-size="7.2" transform="translate(44.20 378.49) scale(0.9 1)" text-anchor="end" fill="#3a3a3a" stroke="#3a3a3a" stroke-width="0.12">0</text>
<line x1="48.30" y1="390.20" x2="51.30" y2="390.20" stroke="#231f20" stroke-width="1.0"/>
<text x="0" y="0" font-size="7.2" transform="translate(44.20 393.09) scale(0.9 1)" text-anchor="end" fill="#3a3a3a" stroke="#3a3a3a" stroke-width="0.12">−25</text>
<line x1="48.30" y1="404.60" x2="51.30" y2="404.60" stroke="#231f20" stroke-width="1.0"/>
<text x="0" y="0" font-size="7.2" transform="translate(44.20 407.49) scale(0.9 1)" text-anchor="end" fill="#3a3a3a" stroke="#3a3a3a" stroke-width="0.12">−50</text>
<line x1="54.00" y1="411.50" x2="54.00" y2="414.50" stroke="#231f20" stroke-width="1.0"/>
<text x="0" y="0" font-size="7.2" transform="translate(54.00 424.59) scale(0.9 1)" text-anchor="middle" fill="#3a3a3a" stroke="#3a3a3a" stroke-width="0.12">−50</text>
<line x1="71.30" y1="411.50" x2="71.30" y2="414.50" stroke="#231f20" stroke-width="1.0"/>
<text x="0" y="0" font-size="7.2" transform="translate(71.30 424.59) scale(0.9 1)" text-anchor="middle" fill="#3a3a3a" stroke="#3a3a3a" stroke-width="0.12">0</text>
<line x1="89.20" y1="411.50" x2="89.20" y2="414.50" stroke="#231f20" stroke-width="1.0"/>
<text x="0" y="0" font-size="7.2" transform="translate(89.20 424.59) scale(0.9 1)" text-anchor="middle" fill="#3a3a3a" stroke="#3a3a3a" stroke-width="0.12">50</text>
<line x1="106.90" y1="411.50" x2="106.90" y2="414.50" stroke="#231f20" stroke-width="1.0"/>
<text x="0" y="0" font-size="7.2" transform="translate(106.90 424.59) scale(0.9 1)" text-anchor="middle" fill="#3a3a3a" stroke="#3a3a3a" stroke-width="0.12">100</text>
<text x="64.80" y="437.40" font-size="8.6" textLength="32.50" lengthAdjust="spacingAndGlyphs" fill="#3a3a3a" stroke="#3a3a3a" stroke-width="0.12">PC1 (35%)</text>
<text x="0" y="0" font-size="8.6" text-anchor="middle" textLength="33.20" lengthAdjust="spacingAndGlyphs" fill="#3a3a3a" stroke="#3a3a3a" stroke-width="0.12" transform="translate(27.50 378.40) rotate(-90)">PC2 (22%)</text>
<circle cx="54.00" cy="348.30" r="2.45" fill="#5a3a25" stroke="#2e1c10" stroke-width="0.8"/>
<circle cx="64.20" cy="349.80" r="2.45" fill="#1f5e50" stroke="#0f3a30" stroke-width="0.8"/>
<circle cx="108.80" cy="367.10" r="2.45" fill="#a8834c" stroke="#5a3a12" stroke-width="0.8"/>
<circle cx="59.40" cy="404.00" r="2.45" fill="#35a0c0" stroke="#17607a" stroke-width="0.8"/>
<circle cx="71.00" cy="408.10" r="2.45" fill="#3c2848" stroke="#1e1028" stroke-width="0.8"/>
<ellipse cx="59.60" cy="349.40" rx="11.5" ry="7.0" fill="none" stroke="#231f20" stroke-width="0.9" transform="rotate(9 59.60 349.40)"/>
<ellipse cx="85.50" cy="387.50" rx="35.4" ry="18.0" fill="none" stroke="#231f20" stroke-width="0.9" transform="rotate(-37 85.50 387.50)"/>
<text x="184.60" y="340.08" font-size="9.4" textLength="12.10" lengthAdjust="spacingAndGlyphs" fill="#333" stroke="#333" stroke-width="0.12">HT</text>
<rect x="160.10" y="345.10" width="60.80" height="66.50" fill="none" stroke="#2a2a2a" stroke-width="1.3"/>
<line x1="157.10" y1="346.10" x2="160.10" y2="346.10" stroke="#231f20" stroke-width="1.0"/>
<text x="0" y="0" font-size="7.2" transform="translate(152.40 348.99) scale(0.9 1)" text-anchor="end" fill="#3a3a3a" stroke="#3a3a3a" stroke-width="0.12">50</text>
<line x1="157.10" y1="363.20" x2="160.10" y2="363.20" stroke="#231f20" stroke-width="1.0"/>
<text x="0" y="0" font-size="7.2" transform="translate(152.40 366.09) scale(0.9 1)" text-anchor="end" fill="#3a3a3a" stroke="#3a3a3a" stroke-width="0.12">25</text>
<line x1="157.10" y1="380.00" x2="160.10" y2="380.00" stroke="#231f20" stroke-width="1.0"/>
<text x="0" y="0" font-size="7.2" transform="translate(152.40 382.89) scale(0.9 1)" text-anchor="end" fill="#3a3a3a" stroke="#3a3a3a" stroke-width="0.12">0</text>
<line x1="157.10" y1="397.00" x2="160.10" y2="397.00" stroke="#231f20" stroke-width="1.0"/>
<text x="0" y="0" font-size="7.2" transform="translate(152.40 399.89) scale(0.9 1)" text-anchor="end" fill="#3a3a3a" stroke="#3a3a3a" stroke-width="0.12">−25</text>
<line x1="169.00" y1="411.60" x2="169.00" y2="414.60" stroke="#231f20" stroke-width="1.0"/>
<text x="0" y="0" font-size="7.2" transform="translate(169.00 424.49) scale(0.9 1)" text-anchor="middle" fill="#3a3a3a" stroke="#3a3a3a" stroke-width="0.12">−50</text>
<line x1="184.10" y1="411.60" x2="184.10" y2="414.60" stroke="#231f20" stroke-width="1.0"/>
<text x="0" y="0" font-size="7.2" transform="translate(184.10 424.49) scale(0.9 1)" text-anchor="middle" fill="#3a3a3a" stroke="#3a3a3a" stroke-width="0.12">0</text>
<line x1="199.20" y1="411.60" x2="199.20" y2="414.60" stroke="#231f20" stroke-width="1.0"/>
<text x="0" y="0" font-size="7.2" transform="translate(199.20 424.49) scale(0.9 1)" text-anchor="middle" fill="#3a3a3a" stroke="#3a3a3a" stroke-width="0.12">50</text>
<line x1="214.30" y1="411.60" x2="214.30" y2="414.60" stroke="#231f20" stroke-width="1.0"/>
<text x="0" y="0" font-size="7.2" transform="translate(214.30 424.49) scale(0.9 1)" text-anchor="middle" fill="#3a3a3a" stroke="#3a3a3a" stroke-width="0.12">100</text>
<text x="173.60" y="437.30" font-size="8.6" textLength="32.40" lengthAdjust="spacingAndGlyphs" fill="#3a3a3a" stroke="#3a3a3a" stroke-width="0.12">PC1 (64%)</text>
<text x="0" y="0" font-size="8.6" text-anchor="middle" textLength="33.20" lengthAdjust="spacingAndGlyphs" fill="#3a3a3a" stroke="#3a3a3a" stroke-width="0.12" transform="translate(136.40 378.20) rotate(-90)">PC2 (12%)</text>
<circle cx="163.00" cy="348.30" r="2.45" fill="#a8834c" stroke="#5a3a12" stroke-width="0.8"/>
<circle cx="165.00" cy="350.30" r="2.45" fill="#a8834c" stroke="#5a3a12" stroke-width="0.8"/>
<circle cx="217.80" cy="368.30" r="2.45" fill="#3c2848" stroke="#1e1028" stroke-width="0.8"/>
<circle cx="210.00" cy="377.50" r="2.45" fill="#35a0c0" stroke="#17607a" stroke-width="0.8"/>
<circle cx="212.00" cy="374.70" r="2.45" fill="#35a0c0" stroke="#17607a" stroke-width="0.8"/>
<circle cx="165.70" cy="391.00" r="2.45" fill="#1f5e50" stroke="#0f3a30" stroke-width="0.8"/>
<circle cx="166.00" cy="393.00" r="2.45" fill="#1f5e50" stroke="#0f3a30" stroke-width="0.8"/>
<circle cx="180.20" cy="408.30" r="2.45" fill="#5a3a25" stroke="#2e1c10" stroke-width="0.8"/>
<ellipse cx="190.60" cy="361.60" rx="34.4" ry="14.7" fill="none" stroke="#231f20" stroke-width="0.9" transform="rotate(26.9 190.60 361.60)"/>
<ellipse cx="172.55" cy="399.65" rx="17.15" ry="7.3" fill="none" stroke="#231f20" stroke-width="0.9" transform="rotate(52.6 172.55 399.65)"/>
<text x="314.80" y="340.08" font-size="9.4" textLength="10.50" lengthAdjust="spacingAndGlyphs" fill="#333" stroke="#333" stroke-width="0.12">RL</text>
<rect x="289.30" y="344.80" width="60.80" height="66.80" fill="none" stroke="#2a2a2a" stroke-width="1.3"/>
<line x1="286.30" y1="353.40" x2="289.30" y2="353.40" stroke="#231f20" stroke-width="1.0"/>
<text x="0" y="0" font-size="7.2" transform="translate(282.50 356.29) scale(0.9 1)" text-anchor="end" fill="#3a3a3a" stroke="#3a3a3a" stroke-width="0.12">10</text>
<line x1="286.30" y1="371.30" x2="289.30" y2="371.30" stroke="#231f20" stroke-width="1.0"/>
<text x="0" y="0" font-size="7.2" transform="translate(282.50 374.19) scale(0.9 1)" text-anchor="end" fill="#3a3a3a" stroke="#3a3a3a" stroke-width="0.12">5</text>
<line x1="286.30" y1="389.00" x2="289.30" y2="389.00" stroke="#231f20" stroke-width="1.0"/>
<text x="0" y="0" font-size="7.2" transform="translate(282.50 391.89) scale(0.9 1)" text-anchor="end" fill="#3a3a3a" stroke="#3a3a3a" stroke-width="0.12">0</text>
<line x1="286.30" y1="406.60" x2="289.30" y2="406.60" stroke="#231f20" stroke-width="1.0"/>
<text x="0" y="0" font-size="7.2" transform="translate(282.50 409.49) scale(0.9 1)" text-anchor="end" fill="#3a3a3a" stroke="#3a3a3a" stroke-width="0.12">−5</text>
<line x1="298.10" y1="411.60" x2="298.10" y2="414.60" stroke="#231f20" stroke-width="1.0"/>
<text x="0" y="0" font-size="7.2" transform="translate(298.10 425.09) scale(0.9 1)" text-anchor="middle" fill="#3a3a3a" stroke="#3a3a3a" stroke-width="0.12">−5</text>
<line x1="313.50" y1="411.60" x2="313.50" y2="414.60" stroke="#231f20" stroke-width="1.0"/>
<text x="0" y="0" font-size="7.2" transform="translate(313.50 425.09) scale(0.9 1)" text-anchor="middle" fill="#3a3a3a" stroke="#3a3a3a" stroke-width="0.12">0</text>
<line x1="329.00" y1="411.60" x2="329.00" y2="414.60" stroke="#231f20" stroke-width="1.0"/>
<text x="0" y="0" font-size="7.2" transform="translate(329.00 425.09) scale(0.9 1)" text-anchor="middle" fill="#3a3a3a" stroke="#3a3a3a" stroke-width="0.12">5</text>
<line x1="344.60" y1="411.60" x2="344.60" y2="414.60" stroke="#231f20" stroke-width="1.0"/>
<text x="0" y="0" font-size="7.2" transform="translate(344.60 425.09) scale(0.9 1)" text-anchor="middle" fill="#3a3a3a" stroke="#3a3a3a" stroke-width="0.12">10</text>
<text x="305.80" y="437.90" font-size="8.6" textLength="32.10" lengthAdjust="spacingAndGlyphs" fill="#3a3a3a" stroke="#3a3a3a" stroke-width="0.12">PC1 (37%)</text>
<text x="0" y="0" font-size="8.6" text-anchor="middle" textLength="33.20" lengthAdjust="spacingAndGlyphs" fill="#3a3a3a" stroke="#3a3a3a" stroke-width="0.12" transform="translate(269.50 378.00) rotate(-90)">PC2 (32%)</text>
<circle cx="304.20" cy="348.30" r="2.45" fill="#a8834c" stroke="#5a3a12" stroke-width="0.8"/>
<circle cx="304.60" cy="350.30" r="2.45" fill="#a8834c" stroke="#5a3a12" stroke-width="0.8"/>
<circle cx="325.50" cy="390.80" r="2.45" fill="#35a0c0" stroke="#17607a" stroke-width="0.8"/>
<circle cx="347.00" cy="395.00" r="2.45" fill="#3c2848" stroke="#1e1028" stroke-width="0.8"/>
<circle cx="291.60" cy="404.00" r="2.45" fill="#1f5e50" stroke="#0f3a30" stroke-width="0.8"/>
<circle cx="292.00" cy="405.60" r="2.45" fill="#1f5e50" stroke="#0f3a30" stroke-width="0.8"/>
<circle cx="299.00" cy="402.70" r="2.45" fill="#5a3a25" stroke="#2e1c10" stroke-width="0.8"/>
<circle cx="297.70" cy="408.40" r="2.45" fill="#5a3a25" stroke="#2e1c10" stroke-width="0.8"/>
<ellipse cx="324.70" cy="372.50" rx="36.75" ry="17.7" fill="none" stroke="#231f20" stroke-width="0.9" transform="rotate(42.9 324.70 372.50)"/>
<ellipse cx="296.30" cy="405.20" rx="9.7" ry="7.0" fill="none" stroke="#231f20" stroke-width="0.9" transform="rotate(0 296.30 405.20)"/>
<text x="423.70" y="340.08" font-size="9.4" textLength="11.20" lengthAdjust="spacingAndGlyphs" fill="#333" stroke="#333" stroke-width="0.12">HT</text>
<rect x="398.10" y="344.80" width="61.30" height="66.70" fill="none" stroke="#2a2a2a" stroke-width="1.3"/>
<line x1="395.10" y1="357.80" x2="398.10" y2="357.80" stroke="#231f20" stroke-width="1.0"/>
<text x="0" y="0" font-size="7.2" transform="translate(391.90 360.69) scale(0.9 1)" text-anchor="end" fill="#3a3a3a" stroke="#3a3a3a" stroke-width="0.12">4</text>
<line x1="395.10" y1="371.00" x2="398.10" y2="371.00" stroke="#231f20" stroke-width="1.0"/>
<text x="0" y="0" font-size="7.2" transform="translate(391.90 373.89) scale(0.9 1)" text-anchor="end" fill="#3a3a3a" stroke="#3a3a3a" stroke-width="0.12">0</text>
<line x1="395.10" y1="384.10" x2="398.10" y2="384.10" stroke="#231f20" stroke-width="1.0"/>
<text x="0" y="0" font-size="7.2" transform="translate(391.90 386.99) scale(0.9 1)" text-anchor="end" fill="#3a3a3a" stroke="#3a3a3a" stroke-width="0.12">−4</text>
<line x1="395.10" y1="397.50" x2="398.10" y2="397.50" stroke="#231f20" stroke-width="1.0"/>
<text x="0" y="0" font-size="7.2" transform="translate(391.90 400.39) scale(0.9 1)" text-anchor="end" fill="#3a3a3a" stroke="#3a3a3a" stroke-width="0.12">−8</text>
<line x1="395.10" y1="410.70" x2="398.10" y2="410.70" stroke="#231f20" stroke-width="1.0"/>
<text x="0" y="0" font-size="7.2" transform="translate(391.90 413.59) scale(0.9 1)" text-anchor="end" fill="#3a3a3a" stroke="#3a3a3a" stroke-width="0.12">−12</text>
<line x1="402.70" y1="411.50" x2="402.70" y2="414.50" stroke="#231f20" stroke-width="1.0"/>
<text x="0" y="0" font-size="7.2" transform="translate(402.70 424.99) scale(0.9 1)" text-anchor="middle" fill="#3a3a3a" stroke="#3a3a3a" stroke-width="0.12">−10</text>
<line x1="416.20" y1="411.50" x2="416.20" y2="414.50" stroke="#231f20" stroke-width="1.0"/>
<text x="0" y="0" font-size="7.2" transform="translate(416.20 424.99) scale(0.9 1)" text-anchor="middle" fill="#3a3a3a" stroke="#3a3a3a" stroke-width="0.12">−5</text>
<line x1="429.60" y1="411.50" x2="429.60" y2="414.50" stroke="#231f20" stroke-width="1.0"/>
<text x="0" y="0" font-size="7.2" transform="translate(429.60 424.99) scale(0.9 1)" text-anchor="middle" fill="#3a3a3a" stroke="#3a3a3a" stroke-width="0.12">0</text>
<line x1="443.50" y1="411.50" x2="443.50" y2="414.50" stroke="#231f20" stroke-width="1.0"/>
<text x="0" y="0" font-size="7.2" transform="translate(443.50 424.99) scale(0.9 1)" text-anchor="middle" fill="#3a3a3a" stroke="#3a3a3a" stroke-width="0.12">5</text>
<line x1="457.50" y1="411.50" x2="457.50" y2="414.50" stroke="#231f20" stroke-width="1.0"/>
<text x="0" y="0" font-size="7.2" transform="translate(457.50 424.99) scale(0.9 1)" text-anchor="middle" fill="#3a3a3a" stroke="#3a3a3a" stroke-width="0.12">10</text>
<text x="414.40" y="437.80" font-size="8.6" textLength="32.10" lengthAdjust="spacingAndGlyphs" fill="#3a3a3a" stroke="#3a3a3a" stroke-width="0.12">PC1 (45%)</text>
<text x="0" y="0" font-size="8.6" text-anchor="middle" textLength="33.20" lengthAdjust="spacingAndGlyphs" fill="#3a3a3a" stroke="#3a3a3a" stroke-width="0.12" transform="translate(375.50 377.70) rotate(-90)">PC2 (28%)</text>
<circle cx="401.10" cy="346.60" r="2.45" fill="#1f5e50" stroke="#0f3a30" stroke-width="0.8"/>
<circle cx="401.90" cy="348.50" r="2.45" fill="#1f5e50" stroke="#0f3a30" stroke-width="0.8"/>
<circle cx="405.60" cy="382.30" r="2.45" fill="#5a3a25" stroke="#2e1c10" stroke-width="0.8"/>
<circle cx="436.00" cy="407.60" r="2.45" fill="#a8834c" stroke="#5a3a12" stroke-width="0.8"/>
<circle cx="436.40" cy="409.20" r="2.45" fill="#a8834c" stroke="#5a3a12" stroke-width="0.8"/>
<circle cx="450.50" cy="354.00" r="2.45" fill="#35a0c0" stroke="#17607a" stroke-width="0.8"/>
<circle cx="456.80" cy="361.80" r="2.45" fill="#3c2848" stroke="#1e1028" stroke-width="0.8"/>
<ellipse cx="404.20" cy="366.00" rx="23.2" ry="7.45" fill="none" stroke="#231f20" stroke-width="0.9" transform="rotate(83.8 404.20 366.00)"/>
<ellipse cx="444.60" cy="382.00" rx="32.7" ry="15.3" fill="none" stroke="#231f20" stroke-width="0.9" transform="rotate(108.8 444.60 382.00)"/>
<text x="475.20" y="353.84" font-size="7.6" textLength="34.10" lengthAdjust="spacingAndGlyphs" fill="#231f20" stroke="#231f20" stroke-width="0.12">Key for D-E</text>
<circle cx="477.40" cy="362.40" r="2.2" fill="#1f5e50" stroke="#0f3a30" stroke-width="0.8"/>
<text x="482.90" y="365.14" font-size="7.6" textLength="9.10" lengthAdjust="spacingAndGlyphs" fill="#231f20" stroke="#231f20" stroke-width="0.12">WT</text>
<circle cx="477.40" cy="372.80" r="2.2" fill="#5a3a25" stroke="#2e1c10" stroke-width="0.8"/>
<text x="482.90" y="375.54" font-size="7.6" textLength="8.60" lengthAdjust="spacingAndGlyphs" fill="#231f20" stroke="#231f20" stroke-width="0.12">KO</text>
<circle cx="477.40" cy="383.50" r="2.2" fill="#a8834c" stroke="#5a3a12" stroke-width="0.8"/>
<text x="482.90" y="386.24" font-size="7.6" textLength="24.00" lengthAdjust="spacingAndGlyphs" fill="#231f20" stroke="#231f20" stroke-width="0.12">R1446C</text>
<circle cx="477.40" cy="394.60" r="2.2" fill="#35a0c0" stroke="#17607a" stroke-width="0.8"/>
<text x="482.90" y="397.34" font-size="7.6" textLength="24.00" lengthAdjust="spacingAndGlyphs" fill="#231f20" stroke="#231f20" stroke-width="0.12">Y1482N</text>
<circle cx="477.40" cy="405.90" r="2.2" fill="#3c2848" stroke="#1e1028" stroke-width="0.8"/>
<text x="482.90" y="408.64" font-size="7.6" textLength="24.00" lengthAdjust="spacingAndGlyphs" fill="#231f20" stroke="#231f20" stroke-width="0.12">Y1503C</text>
</svg>
</body></html>
